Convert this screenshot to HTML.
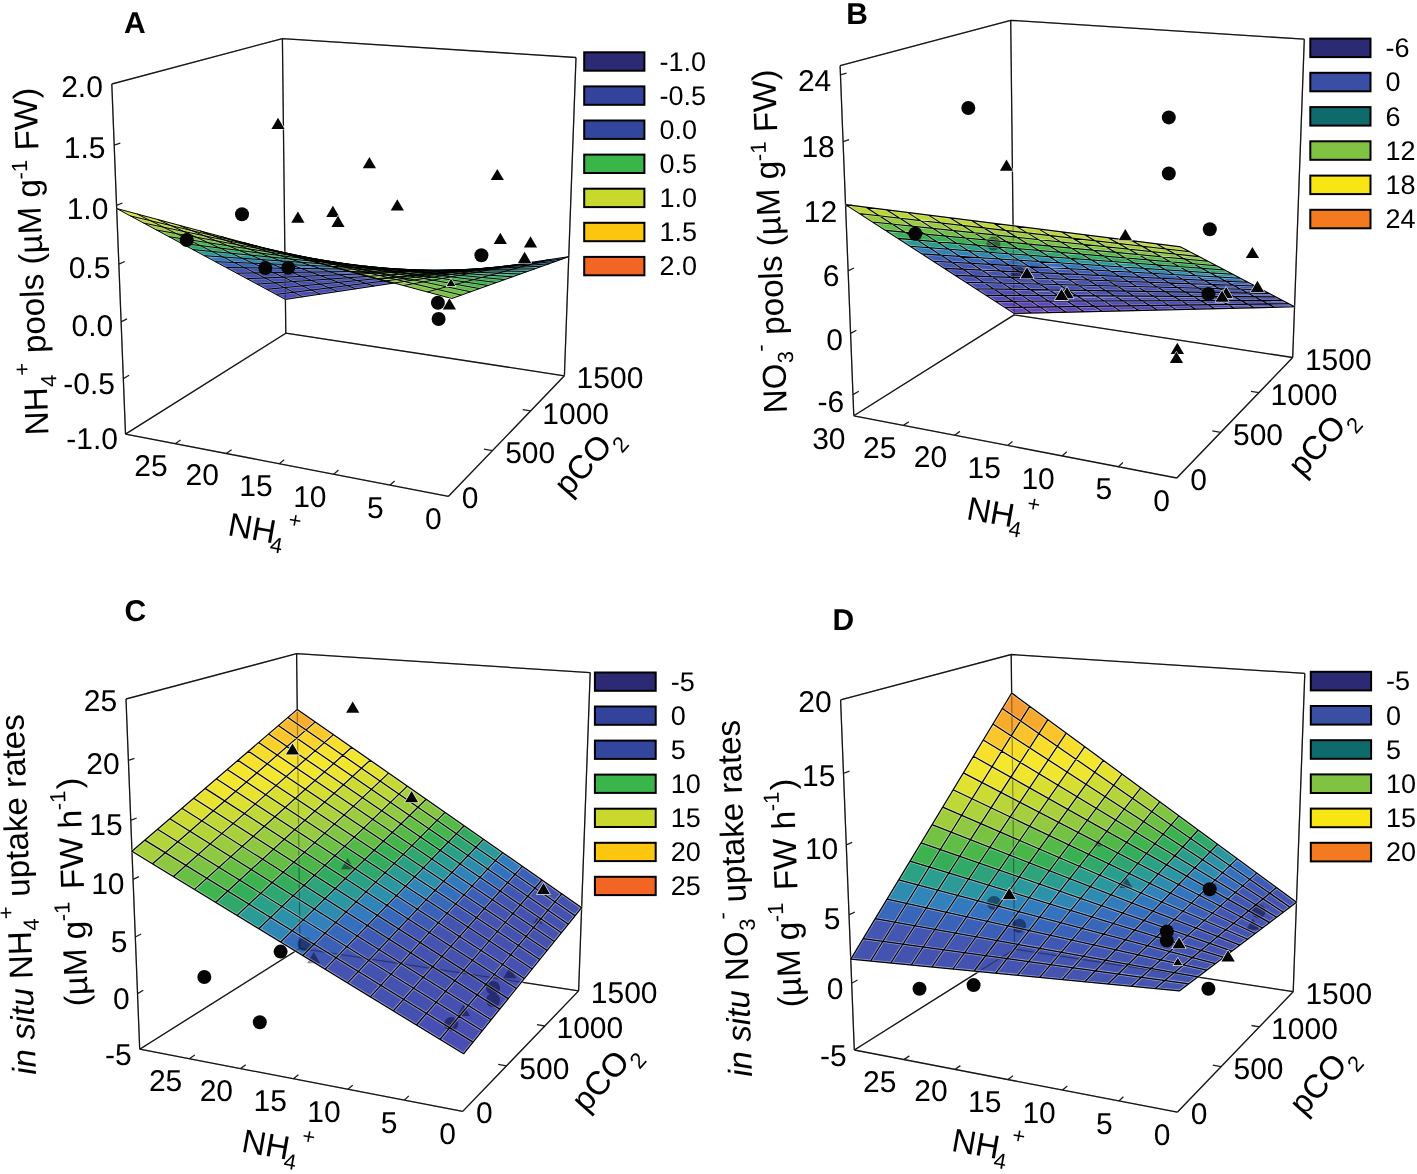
<!DOCTYPE html><html><head><meta charset="utf-8"><style>html,body{margin:0;padding:0;background:#fff;}svg{display:block;}text{font-family:"Liberation Sans",sans-serif;fill:#000;text-rendering:geometricPrecision;}</style></head><body>
<svg width="1417" height="1174" viewBox="0 0 1417 1174">
<rect width="1417" height="1174" fill="#fff"/>
<path d="M111.8 84L282.4 38.6M282.4 38.6L576 57.5M111.8 84L125.5 434.1M282.4 38.6L285.8 333.2M576 57.5L564.4 375.8M125.5 434.1L285.8 333.2M285.8 333.2L564.4 375.8M125.5 434.1L448.5 496.3M448.5 496.3L564.4 375.8M111.8 84L117.9 82.3M114.2 145.2L120.3 143.2M116.5 205.3L122.5 203M118.9 264.2L124.8 261.5M121.1 321.9L127 318.9M123.4 378.6L129.1 375.3M125.5 434.1L131.3 430.5M390.1 485.1L394.6 480.9M333.7 474.2L338.5 470.1M279.2 463.7L284.2 459.8M226.3 453.5L231.6 449.7M175.1 443.7L180.6 440M492.3 450.7L484 449.2M530.7 410.9L522.7 409.6" fill="none" stroke="#231f20" stroke-width="1.3"/>
<polygon points="293.6,292.2 276.2,294.4 285.4,299.4 302.7,296.8" fill="#4c4cb6" stroke="#4c4cb6" stroke-width="0.6"/>
<polygon points="311.3,290.1 293.6,292.2 302.7,296.8 320.2,294.1" fill="#4a4db5" stroke="#4a4db5" stroke-width="0.6"/>
<polygon points="329.2,287.8 311.3,290.1 320.2,294.1 337.9,291.5" fill="#494eb4" stroke="#494eb4" stroke-width="0.6"/>
<polygon points="284.4,287.6 266.7,289.3 276.2,294.4 293.6,292.2" fill="#494eb4" stroke="#494eb4" stroke-width="0.6"/>
<polygon points="347.3,285.6 329.2,287.8 337.9,291.5 355.8,288.8" fill="#484fb3" stroke="#484fb3" stroke-width="0.6"/>
<polygon points="302.2,285.9 284.4,287.6 293.6,292.2 311.3,290.1" fill="#484fb3" stroke="#484fb3" stroke-width="0.6"/>
<polygon points="365.6,283.3 347.3,285.6 355.8,288.8 374,286" fill="#4750b2" stroke="#4750b2" stroke-width="0.6"/>
<polygon points="320.3,284.1 302.2,285.9 311.3,290.1 329.2,287.8" fill="#4750b2" stroke="#4750b2" stroke-width="0.6"/>
<polygon points="274.8,282.8 257,284.1 266.7,289.3 284.4,287.6" fill="#4750b1" stroke="#4750b1" stroke-width="0.6"/>
<polygon points="384.2,281 365.6,283.3 374,286 392.3,283.3" fill="#4651b1" stroke="#4651b1" stroke-width="0.6"/>
<polygon points="338.6,282.4 320.3,284.1 329.2,287.8 347.3,285.6" fill="#4650b1" stroke="#4650b1" stroke-width="0.6"/>
<polygon points="292.9,281.6 274.8,282.8 284.4,287.6 302.2,285.9" fill="#4650b1" stroke="#4650b1" stroke-width="0.6"/>
<polygon points="403,278.7 384.2,281 392.3,283.3 410.9,280.5" fill="#4551b0" stroke="#4551b0" stroke-width="0.6"/>
<polygon points="357.1,280.6 338.6,282.4 347.3,285.6 365.6,283.3" fill="#4551b0" stroke="#4551b0" stroke-width="0.6"/>
<polygon points="311.1,280.3 292.9,281.6 302.2,285.9 320.3,284.1" fill="#4551b0" stroke="#4551b0" stroke-width="0.6"/>
<polygon points="265.1,278 247.1,278.7 257,284.1 274.8,282.8" fill="#4551b0" stroke="#4551b0" stroke-width="0.6"/>
<polygon points="422,276.4 403,278.7 410.9,280.5 429.8,277.6" fill="#4552b0" stroke="#4552b0" stroke-width="0.6"/>
<polygon points="375.8,278.8 357.1,280.6 365.6,283.3 384.2,281" fill="#4552b0" stroke="#4552b0" stroke-width="0.6"/>
<polygon points="329.6,279 311.1,280.3 320.3,284.1 338.6,282.4" fill="#4552b0" stroke="#4552b0" stroke-width="0.6"/>
<polygon points="283.3,277.2 265.1,278 274.8,282.8 292.9,281.6" fill="#4552b0" stroke="#4552b0" stroke-width="0.6"/>
<polygon points="441.3,274 422,276.4 429.8,277.6 448.9,274.8" fill="#4453b0" stroke="#4453b0" stroke-width="0.6"/>
<polygon points="394.8,276.9 375.8,278.8 384.2,281 403,278.7" fill="#4552b0" stroke="#4552b0" stroke-width="0.6"/>
<polygon points="348.3,277.7 329.6,279 338.6,282.4 357.1,280.6" fill="#4552b0" stroke="#4552b0" stroke-width="0.6"/>
<polygon points="301.7,276.4 283.3,277.2 292.9,281.6 311.1,280.3" fill="#4552b0" stroke="#4552b0" stroke-width="0.6"/>
<polygon points="255,272.9 236.8,273.2 247.1,278.7 265.1,278" fill="#4453b0" stroke="#4453b0" stroke-width="0.6"/>
<polygon points="460.8,271.6 441.3,274 448.9,274.8 468.2,271.9" fill="#4453b0" stroke="#4453b0" stroke-width="0.6"/>
<polygon points="414.1,275.1 394.8,276.9 403,278.7 422,276.4" fill="#4453b0" stroke="#4453b0" stroke-width="0.6"/>
<polygon points="367.3,276.4 348.3,277.7 357.1,280.6 375.8,278.8" fill="#4453b0" stroke="#4453b0" stroke-width="0.6"/>
<polygon points="320.4,275.6 301.7,276.4 311.1,280.3 329.6,279" fill="#4453b0" stroke="#4453b0" stroke-width="0.6"/>
<polygon points="273.4,272.7 255,272.9 265.1,278 283.3,277.2" fill="#4453b0" stroke="#4453b0" stroke-width="0.6"/>
<polygon points="480.6,269.1 460.8,271.6 468.2,271.9 487.8,268.9" fill="#4454b0" stroke="#4454b0" stroke-width="0.6"/>
<polygon points="433.5,273.2 414.1,275.1 422,276.4 441.3,274" fill="#4453b0" stroke="#4453b0" stroke-width="0.6"/>
<polygon points="386.5,275.1 367.3,276.4 375.8,278.8 394.8,276.9" fill="#4453b0" stroke="#4453b0" stroke-width="0.6"/>
<polygon points="339.3,274.8 320.4,275.6 329.6,279 348.3,277.7" fill="#4453b0" stroke="#4453b0" stroke-width="0.6"/>
<polygon points="292.1,272.4 273.4,272.7 283.3,277.2 301.7,276.4" fill="#4453b0" stroke="#4453b0" stroke-width="0.6"/>
<polygon points="244.7,267.8 226.3,267.5 236.8,273.2 255,272.9" fill="#4454b0" stroke="#4454b0" stroke-width="0.6"/>
<polygon points="453.3,271.3 433.5,273.2 441.3,274 460.8,271.6" fill="#4454b0" stroke="#4454b0" stroke-width="0.6"/>
<polygon points="500.7,266.6 480.6,269.1 487.8,268.9 507.7,265.9" fill="#4256b2" stroke="#4256b2" stroke-width="0.6"/>
<polygon points="405.9,273.7 386.5,275.1 394.8,276.9 414.1,275.1" fill="#4454b0" stroke="#4454b0" stroke-width="0.6"/>
<polygon points="358.5,274 339.3,274.8 348.3,277.7 367.3,276.4" fill="#4454b0" stroke="#4454b0" stroke-width="0.6"/>
<polygon points="311,272.1 292.1,272.4 301.7,276.4 320.4,275.6" fill="#4454b0" stroke="#4454b0" stroke-width="0.6"/>
<polygon points="263.3,268 244.7,267.8 255,272.9 273.4,272.7" fill="#4256b2" stroke="#4256b2" stroke-width="0.6"/>
<polygon points="473.2,269.3 453.3,271.3 460.8,271.6 480.6,269.1" fill="#4256b2" stroke="#4256b2" stroke-width="0.6"/>
<polygon points="521,264.1 500.7,266.6 507.7,265.9 527.8,262.9" fill="#3e5bb5" stroke="#3e5bb5" stroke-width="0.6"/>
<polygon points="425.6,272.4 405.9,273.7 414.1,275.1 433.5,273.2" fill="#4355b1" stroke="#4355b1" stroke-width="0.6"/>
<polygon points="377.8,273.2 358.5,274 367.3,276.4 386.5,275.1" fill="#4454b0" stroke="#4454b0" stroke-width="0.6"/>
<polygon points="330.1,271.8 311,272.1 320.4,275.6 339.3,274.8" fill="#4355b1" stroke="#4355b1" stroke-width="0.6"/>
<polygon points="282.2,268.3 263.3,268 273.4,272.7 292.1,272.4" fill="#4157b3" stroke="#4157b3" stroke-width="0.6"/>
<polygon points="234.1,262.5 215.5,261.7 226.3,267.5 244.7,267.8" fill="#3c5fb7" stroke="#3c5fb7" stroke-width="0.6"/>
<polygon points="493.5,267.4 473.2,269.3 480.6,269.1 500.7,266.6" fill="#3f5ab5" stroke="#3f5ab5" stroke-width="0.6"/>
<polygon points="445.5,271 425.6,272.4 433.5,273.2 453.3,271.3" fill="#4157b3" stroke="#4157b3" stroke-width="0.6"/>
<polygon points="541.5,261.6 521,264.1 527.8,262.9 548.1,259.8" fill="#3966ba" stroke="#3966ba" stroke-width="0.6"/>
<polygon points="397.5,272.4 377.8,273.2 386.5,275.1 405.9,273.7" fill="#4256b2" stroke="#4256b2" stroke-width="0.6"/>
<polygon points="349.4,271.5 330.1,271.8 339.3,274.8 358.5,274" fill="#4157b3" stroke="#4157b3" stroke-width="0.6"/>
<polygon points="301.2,268.5 282.2,268.3 292.1,272.4 311,272.1" fill="#4058b4" stroke="#4058b4" stroke-width="0.6"/>
<polygon points="252.9,263.2 234.1,262.5 244.7,267.8 263.3,268" fill="#3964b9" stroke="#3964b9" stroke-width="0.6"/>
<polygon points="514,265.4 493.5,267.4 500.7,266.6 521,264.1" fill="#3964b9" stroke="#3964b9" stroke-width="0.6"/>
<polygon points="465.7,269.6 445.5,271 453.3,271.3 473.2,269.3" fill="#3e5cb5" stroke="#3e5cb5" stroke-width="0.6"/>
<polygon points="562.4,259 541.5,261.6 548.1,259.8 568.8,256.7" fill="#3472bf" stroke="#3472bf" stroke-width="0.6"/>
<polygon points="417.4,271.5 397.5,272.4 405.9,273.7 425.6,272.4" fill="#4058b4" stroke="#4058b4" stroke-width="0.6"/>
<polygon points="369,271.2 349.4,271.5 358.5,274 377.8,273.2" fill="#4059b4" stroke="#4059b4" stroke-width="0.6"/>
<polygon points="320.6,268.7 301.2,268.5 311,272.1 330.1,271.8" fill="#3c5eb6" stroke="#3c5eb6" stroke-width="0.6"/>
<polygon points="272,264 252.9,263.2 263.3,268 282.2,268.3" fill="#3868bb" stroke="#3868bb" stroke-width="0.6"/>
<polygon points="223.2,257 204.4,255.7 215.5,261.7 234.1,262.5" fill="#337abe" stroke="#337abe" stroke-width="0.6"/>
<polygon points="486.1,268.1 465.7,269.6 473.2,269.3 493.5,267.4" fill="#3965b9" stroke="#3965b9" stroke-width="0.6"/>
<polygon points="534.8,263.4 514,265.4 521,264.1 541.5,261.6" fill="#366fbe" stroke="#366fbe" stroke-width="0.6"/>
<polygon points="437.5,270.7 417.4,271.5 425.6,272.4 445.5,271" fill="#3b60b7" stroke="#3b60b7" stroke-width="0.6"/>
<polygon points="388.8,270.9 369,271.2 377.8,273.2 397.5,272.4" fill="#3c5fb7" stroke="#3c5fb7" stroke-width="0.6"/>
<polygon points="340.1,269 320.6,268.7 330.1,271.8 349.4,271.5" fill="#3963b9" stroke="#3963b9" stroke-width="0.6"/>
<polygon points="291.3,264.8 272,264 282.2,268.3 301.2,268.5" fill="#366dbd" stroke="#366dbd" stroke-width="0.6"/>
<polygon points="242.2,258.3 223.2,257 234.1,262.5 252.9,263.2" fill="#327fbc" stroke="#327fbc" stroke-width="0.6"/>
<polygon points="506.8,266.7 486.1,268.1 493.5,267.4 514,265.4" fill="#366ebe" stroke="#366ebe" stroke-width="0.6"/>
<polygon points="555.8,261.4 534.8,263.4 541.5,261.6 562.4,259" fill="#327cbd" stroke="#327cbd" stroke-width="0.6"/>
<polygon points="457.9,269.8 437.5,270.7 445.5,271 465.7,269.6" fill="#3867bb" stroke="#3867bb" stroke-width="0.6"/>
<polygon points="408.9,270.6 388.8,270.9 397.5,272.4 417.4,271.5" fill="#3966ba" stroke="#3966ba" stroke-width="0.6"/>
<polygon points="359.9,269.2 340.1,269 349.4,271.5 369,271.2" fill="#3869bb" stroke="#3869bb" stroke-width="0.6"/>
<polygon points="310.8,265.6 291.3,264.8 301.2,268.5 320.6,268.7" fill="#3571bf" stroke="#3571bf" stroke-width="0.6"/>
<polygon points="261.5,259.6 242.2,258.3 252.9,263.2 272,264" fill="#3184ba" stroke="#3184ba" stroke-width="0.6"/>
<polygon points="527.8,265.2 506.8,266.7 514,265.4 534.8,263.4" fill="#3379be" stroke="#3379be" stroke-width="0.6"/>
<polygon points="478.5,268.9 457.9,269.8 465.7,269.6 486.1,268.1" fill="#356fbe" stroke="#356fbe" stroke-width="0.6"/>
<polygon points="212,251.4 192.9,249.6 204.4,255.7 223.2,257" fill="#2b989d" stroke="#2b989d" stroke-width="0.6"/>
<polygon points="429.3,270.3 408.9,270.6 417.4,271.5 437.5,270.7" fill="#366dbd" stroke="#366dbd" stroke-width="0.6"/>
<polygon points="380,269.5 359.9,269.2 369,271.2 388.8,270.9" fill="#366fbe" stroke="#366fbe" stroke-width="0.6"/>
<polygon points="330.6,266.4 310.8,265.6 320.6,268.7 340.1,269" fill="#3377bf" stroke="#3377bf" stroke-width="0.6"/>
<polygon points="281,261 261.5,259.6 272,264 291.3,264.8" fill="#2f88b5" stroke="#2f88b5" stroke-width="0.6"/>
<polygon points="549.1,263.8 527.8,265.2 534.8,263.4 555.8,261.4" fill="#3087b6" stroke="#3087b6" stroke-width="0.6"/>
<polygon points="231.2,253.3 212,251.4 223.2,257 242.2,258.3" fill="#2b9a9a" stroke="#2b9a9a" stroke-width="0.6"/>
<polygon points="499.5,268 478.5,268.9 486.1,268.1 506.8,266.7" fill="#337abe" stroke="#337abe" stroke-width="0.6"/>
<polygon points="449.9,270 429.3,270.3 437.5,270.7 457.9,269.8" fill="#3473c0" stroke="#3473c0" stroke-width="0.6"/>
<polygon points="400.3,269.8 380,269.5 388.8,270.9 408.9,270.6" fill="#3475bf" stroke="#3475bf" stroke-width="0.6"/>
<polygon points="350.6,267.2 330.6,266.4 340.1,269 359.9,269.2" fill="#327dbd" stroke="#327dbd" stroke-width="0.6"/>
<polygon points="300.8,262.3 281,261 291.3,264.8 310.8,265.6" fill="#2e8cb0" stroke="#2e8cb0" stroke-width="0.6"/>
<polygon points="250.7,255.1 231.2,253.3 242.2,258.3 261.5,259.6" fill="#2b9b97" stroke="#2b9b97" stroke-width="0.6"/>
<polygon points="520.7,267.1 499.5,268 506.8,266.7 527.8,265.2" fill="#3086b8" stroke="#3086b8" stroke-width="0.6"/>
<polygon points="470.8,269.7 449.9,270 457.9,269.8 478.5,268.9" fill="#327ebd" stroke="#327ebd" stroke-width="0.6"/>
<polygon points="420.9,270 400.3,269.8 408.9,270.6 429.3,270.3" fill="#327dbd" stroke="#327dbd" stroke-width="0.6"/>
<polygon points="200.4,245.6 181.1,243.2 192.9,249.6 212,251.4" fill="#30a969" stroke="#30a969" stroke-width="0.6"/>
<polygon points="370.9,268 350.6,267.2 359.9,269.2 380,269.5" fill="#3184ba" stroke="#3184ba" stroke-width="0.6"/>
<polygon points="320.7,263.7 300.8,262.3 310.8,265.6 330.6,266.4" fill="#2d91aa" stroke="#2d91aa" stroke-width="0.6"/>
<polygon points="270.4,257 250.7,255.1 261.5,259.6 281,261" fill="#2a9c93" stroke="#2a9c93" stroke-width="0.6"/>
<polygon points="542.2,266.2 520.7,267.1 527.8,265.2 549.1,263.8" fill="#2d91aa" stroke="#2d91aa" stroke-width="0.6"/>
<polygon points="491.9,269.4 470.8,269.7 478.5,268.9 499.5,268" fill="#2f88b5" stroke="#2f88b5" stroke-width="0.6"/>
<polygon points="441.7,270.3 420.9,270 429.3,270.3 449.9,270" fill="#3086b8" stroke="#3086b8" stroke-width="0.6"/>
<polygon points="219.9,248.1 200.4,245.6 212,251.4 231.2,253.3" fill="#31aa67" stroke="#31aa67" stroke-width="0.6"/>
<polygon points="391.4,268.8 370.9,268 380,269.5 400.3,269.8" fill="#2f8ab2" stroke="#2f8ab2" stroke-width="0.6"/>
<polygon points="341,265.1 320.7,263.7 330.6,266.4 350.6,267.2" fill="#2b95a5" stroke="#2b95a5" stroke-width="0.6"/>
<polygon points="290.4,259 270.4,257 281,261 300.8,262.3" fill="#2a9d90" stroke="#2a9d90" stroke-width="0.6"/>
<polygon points="513.3,269.1 491.9,269.4 499.5,268 520.7,267.1" fill="#2c91aa" stroke="#2c91aa" stroke-width="0.6"/>
<polygon points="462.8,270.5 441.7,270.3 449.9,270 470.8,269.7" fill="#2e8eae" stroke="#2e8eae" stroke-width="0.6"/>
<polygon points="239.6,250.5 219.9,248.1 231.2,253.3 250.7,255.1" fill="#31aa65" stroke="#31aa65" stroke-width="0.6"/>
<polygon points="412.2,269.7 391.4,268.8 400.3,269.8 420.9,270" fill="#2d90ab" stroke="#2d90ab" stroke-width="0.6"/>
<polygon points="361.5,266.5 341,265.1 350.6,267.2 370.9,268" fill="#2b98a0" stroke="#2b98a0" stroke-width="0.6"/>
<polygon points="188.5,239.7 169,236.7 181.1,243.2 200.4,245.6" fill="#4cb749" stroke="#4cb749" stroke-width="0.6"/>
<polygon points="310.6,260.9 290.4,259 300.8,262.3 320.7,263.7" fill="#2a9e8d" stroke="#2a9e8d" stroke-width="0.6"/>
<polygon points="535,268.8 513.3,269.1 520.7,267.1 542.2,266.2" fill="#2b989e" stroke="#2b989e" stroke-width="0.6"/>
<polygon points="259.6,253 239.6,250.5 250.7,255.1 270.4,257" fill="#32ab63" stroke="#32ab63" stroke-width="0.6"/>
<polygon points="484.2,270.8 462.8,270.5 470.8,269.7 491.9,269.4" fill="#2b95a5" stroke="#2b95a5" stroke-width="0.6"/>
<polygon points="433.2,270.5 412.2,269.7 420.9,270 441.7,270.3" fill="#2b96a4" stroke="#2b96a4" stroke-width="0.6"/>
<polygon points="382.2,267.9 361.5,266.5 370.9,268 391.4,268.8" fill="#2b999a" stroke="#2b999a" stroke-width="0.6"/>
<polygon points="208.2,242.7 188.5,239.7 200.4,245.6 219.9,248.1" fill="#4bb74a" stroke="#4bb74a" stroke-width="0.6"/>
<polygon points="331.1,262.9 310.6,260.9 320.7,263.7 341,265.1" fill="#2a9f89" stroke="#2a9f89" stroke-width="0.6"/>
<polygon points="279.8,255.5 259.6,253 270.4,257 290.4,259" fill="#32ab61" stroke="#32ab61" stroke-width="0.6"/>
<polygon points="505.8,271.1 484.2,270.8 491.9,269.4 513.3,269.1" fill="#2b999c" stroke="#2b999c" stroke-width="0.6"/>
<polygon points="454.6,271.4 433.2,270.5 441.7,270.3 462.8,270.5" fill="#2b999c" stroke="#2b999c" stroke-width="0.6"/>
<polygon points="228.2,245.8 208.2,242.7 219.9,248.1 239.6,250.5" fill="#4ab74a" stroke="#4ab74a" stroke-width="0.6"/>
<polygon points="403.3,269.3 382.2,267.9 391.4,268.8 412.2,269.7" fill="#2a9b95" stroke="#2a9b95" stroke-width="0.6"/>
<polygon points="351.8,264.9 331.1,262.9 341,265.1 361.5,266.5" fill="#2ba185" stroke="#2ba185" stroke-width="0.6"/>
<polygon points="176.2,233.6 156.5,230 169,236.7 188.5,239.7" fill="#7bc443" stroke="#7bc443" stroke-width="0.6"/>
<polygon points="300.2,258.1 279.8,255.5 290.4,259 310.6,260.9" fill="#33ac60" stroke="#33ac60" stroke-width="0.6"/>
<polygon points="527.8,271.4 505.8,271.1 513.3,269.1 535,268.8" fill="#2a9c92" stroke="#2a9c92" stroke-width="0.6"/>
<polygon points="476.2,272.3 454.6,271.4 462.8,270.5 484.2,270.8" fill="#2a9b95" stroke="#2a9b95" stroke-width="0.6"/>
<polygon points="248.4,248.9 228.2,245.8 239.6,250.5 259.6,253" fill="#49b64a" stroke="#49b64a" stroke-width="0.6"/>
<polygon points="424.6,270.8 403.3,269.3 412.2,269.7 433.2,270.5" fill="#2a9d90" stroke="#2a9d90" stroke-width="0.6"/>
<polygon points="372.8,266.9 351.8,264.9 361.5,266.5 382.2,267.9" fill="#2ca37f" stroke="#2ca37f" stroke-width="0.6"/>
<polygon points="196.2,237.2 176.2,233.6 188.5,239.7 208.2,242.7" fill="#78c343" stroke="#78c343" stroke-width="0.6"/>
<polygon points="321,260.7 300.2,258.1 310.6,260.9 331.1,262.9" fill="#33ac5f" stroke="#33ac5f" stroke-width="0.6"/>
<polygon points="498.1,273.1 476.2,272.3 484.2,270.8 505.8,271.1" fill="#2a9e8e" stroke="#2a9e8e" stroke-width="0.6"/>
<polygon points="268.8,252 248.4,248.9 259.6,253 279.8,255.5" fill="#48b64b" stroke="#48b64b" stroke-width="0.6"/>
<polygon points="446.1,272.3 424.6,270.8 433.2,270.5 454.6,271.4" fill="#2a9f8b" stroke="#2a9f8b" stroke-width="0.6"/>
<polygon points="394.1,269 372.8,266.9 382.2,267.9 403.3,269.3" fill="#2da47a" stroke="#2da47a" stroke-width="0.6"/>
<polygon points="216.4,240.9 196.2,237.2 208.2,242.7 228.2,245.8" fill="#75c243" stroke="#75c243" stroke-width="0.6"/>
<polygon points="341.9,263.3 321,260.7 331.1,262.9 351.8,264.9" fill="#34ad5e" stroke="#34ad5e" stroke-width="0.6"/>
<polygon points="163.6,227.2 143.6,223 156.5,230 176.2,233.6" fill="#a0ce3e" stroke="#a0ce3e" stroke-width="0.6"/>
<polygon points="289.5,255.1 268.8,252 279.8,255.5 300.2,258.1" fill="#47b64b" stroke="#47b64b" stroke-width="0.6"/>
<polygon points="520.3,274 498.1,273.1 505.8,271.1 527.8,271.4" fill="#2aa186" stroke="#2aa186" stroke-width="0.6"/>
<polygon points="468,273.7 446.1,272.3 454.6,271.4 476.2,272.3" fill="#2ba184" stroke="#2ba184" stroke-width="0.6"/>
<polygon points="415.6,271 394.1,269 403.3,269.3 424.6,270.8" fill="#2ea674" stroke="#2ea674" stroke-width="0.6"/>
<polygon points="236.8,244.6 216.4,240.9 228.2,245.8 248.4,248.9" fill="#72c144" stroke="#72c144" stroke-width="0.6"/>
<polygon points="363.2,265.9 341.9,263.3 351.8,264.9 372.8,266.9" fill="#34ad5d" stroke="#34ad5d" stroke-width="0.6"/>
<polygon points="183.8,231.5 163.6,227.2 176.2,233.6 196.2,237.2" fill="#9dcd3f" stroke="#9dcd3f" stroke-width="0.6"/>
<polygon points="310.5,258.4 289.5,255.1 300.2,258.1 321,260.7" fill="#46b64b" stroke="#46b64b" stroke-width="0.6"/>
<polygon points="490.1,275.3 468,273.7 476.2,272.3 498.1,273.1" fill="#2da47b" stroke="#2da47b" stroke-width="0.6"/>
<polygon points="257.5,248.3 236.8,244.6 248.4,248.9 268.8,252" fill="#6ec144" stroke="#6ec144" stroke-width="0.6"/>
<polygon points="437.5,273.1 415.6,271 424.6,270.8 446.1,272.3" fill="#2fa76f" stroke="#2fa76f" stroke-width="0.6"/>
<polygon points="384.7,268.6 363.2,265.9 372.8,266.9 394.1,269" fill="#35ad5c" stroke="#35ad5c" stroke-width="0.6"/>
<polygon points="204.3,235.8 183.8,231.5 196.2,237.2 216.4,240.9" fill="#99cb3f" stroke="#99cb3f" stroke-width="0.6"/>
<polygon points="331.7,261.6 310.5,258.4 321,260.7 341.9,263.3" fill="#45b54c" stroke="#45b54c" stroke-width="0.6"/>
<polygon points="512.5,276.8 490.1,275.3 498.1,273.1 520.3,274" fill="#2fa672" stroke="#2fa672" stroke-width="0.6"/>
<polygon points="278.5,252.1 257.5,248.3 268.8,252 289.5,255.1" fill="#6bc044" stroke="#6bc044" stroke-width="0.6"/>
<polygon points="150.6,220.7 130.4,215.9 143.6,223 163.6,227.2" fill="#bdd739" stroke="#bdd739" stroke-width="0.6"/>
<polygon points="459.5,275.3 437.5,273.1 446.1,272.3 468,273.7" fill="#31a969" stroke="#31a969" stroke-width="0.6"/>
<polygon points="406.5,271.3 384.7,268.6 394.1,269 415.6,271" fill="#35ae5b" stroke="#35ae5b" stroke-width="0.6"/>
<polygon points="225,240.2 204.3,235.8 216.4,240.9 236.8,244.6" fill="#96ca40" stroke="#96ca40" stroke-width="0.6"/>
<polygon points="353.2,264.9 331.7,261.6 341.9,263.3 363.2,265.9" fill="#45b54c" stroke="#45b54c" stroke-width="0.6"/>
<polygon points="171,225.6 150.6,220.7 163.6,227.2 183.8,231.5" fill="#b8d63a" stroke="#b8d63a" stroke-width="0.6"/>
<polygon points="299.7,256 278.5,252.1 289.5,255.1 310.5,258.4" fill="#68bf44" stroke="#68bf44" stroke-width="0.6"/>
<polygon points="481.9,277.4 459.5,275.3 468,273.7 490.1,275.3" fill="#32ab63" stroke="#32ab63" stroke-width="0.6"/>
<polygon points="428.5,274.1 406.5,271.3 415.6,271 437.5,273.1" fill="#36ae5a" stroke="#36ae5a" stroke-width="0.6"/>
<polygon points="245.9,244.6 225,240.2 236.8,244.6 257.5,248.3" fill="#92c941" stroke="#92c941" stroke-width="0.6"/>
<polygon points="375,268.2 353.2,264.9 363.2,265.9 384.7,268.6" fill="#44b54c" stroke="#44b54c" stroke-width="0.6"/>
<polygon points="191.7,230.6 171,225.6 183.8,231.5 204.3,235.8" fill="#b4d43b" stroke="#b4d43b" stroke-width="0.6"/>
<polygon points="321.2,259.9 299.7,256 310.5,258.4 331.7,261.6" fill="#65be45" stroke="#65be45" stroke-width="0.6"/>
<polygon points="504.6,279.6 481.9,277.4 490.1,275.3 512.5,276.8" fill="#33ac60" stroke="#33ac60" stroke-width="0.6"/>
<polygon points="450.9,276.9 428.5,274.1 437.5,273.1 459.5,275.3" fill="#36af59" stroke="#36af59" stroke-width="0.6"/>
<polygon points="267.1,249 245.9,244.6 257.5,248.3 278.5,252.1" fill="#8fc842" stroke="#8fc842" stroke-width="0.6"/>
<polygon points="137.1,214 116.7,208.5 130.4,215.9 150.6,220.7" fill="#dbe031" stroke="#dbe031" stroke-width="0.6"/>
<polygon points="397,271.6 375,268.2 384.7,268.6 406.5,271.3" fill="#43b54d" stroke="#43b54d" stroke-width="0.6"/>
<polygon points="212.7,235.6 191.7,230.6 204.3,235.8 225,240.2" fill="#afd33b" stroke="#afd33b" stroke-width="0.6"/>
<polygon points="342.9,263.8 321.2,259.9 331.7,261.6 353.2,264.9" fill="#62bd45" stroke="#62bd45" stroke-width="0.6"/>
<polygon points="288.6,253.5 267.1,249 278.5,252.1 299.7,256" fill="#8ac742" stroke="#8ac742" stroke-width="0.6"/>
<polygon points="473.5,279.7 450.9,276.9 459.5,275.3 481.9,277.4" fill="#37af58" stroke="#37af58" stroke-width="0.6"/>
<polygon points="157.9,219.6 137.1,214 150.6,220.7 171,225.6" fill="#d3de32" stroke="#d3de32" stroke-width="0.6"/>
<polygon points="419.3,275 397,271.6 406.5,271.3 428.5,274.1" fill="#42b44d" stroke="#42b44d" stroke-width="0.6"/>
<polygon points="233.9,240.7 212.7,235.6 225,240.2 245.9,244.6" fill="#aad13c" stroke="#aad13c" stroke-width="0.6"/>
<polygon points="365,267.8 342.9,263.8 353.2,264.9 375,268.2" fill="#5fbd45" stroke="#5fbd45" stroke-width="0.6"/>
<polygon points="310.3,258.1 288.6,253.5 299.7,256 321.2,259.9" fill="#84c643" stroke="#84c643" stroke-width="0.6"/>
<polygon points="178.8,225.2 157.9,219.6 171,225.6 191.7,230.6" fill="#ccdb34" stroke="#ccdb34" stroke-width="0.6"/>
<polygon points="496.4,282.5 473.5,279.7 481.9,277.4 504.6,279.6" fill="#37af57" stroke="#37af57" stroke-width="0.6"/>
<polygon points="441.9,278.5 419.3,275 428.5,274.1 450.9,276.9" fill="#41b44d" stroke="#41b44d" stroke-width="0.6"/>
<polygon points="255.4,245.8 233.9,240.7 245.9,244.6 267.1,249" fill="#a5cf3d" stroke="#a5cf3d" stroke-width="0.6"/>
<polygon points="387.3,271.9 365,267.8 375,268.2 397,271.6" fill="#5cbc46" stroke="#5cbc46" stroke-width="0.6"/>
<polygon points="200.1,230.9 178.8,225.2 191.7,230.6 212.7,235.6" fill="#c6da36" stroke="#c6da36" stroke-width="0.6"/>
<polygon points="332.4,262.7 310.3,258.1 321.2,259.9 342.9,263.8" fill="#7ec443" stroke="#7ec443" stroke-width="0.6"/>
<polygon points="464.8,282 441.9,278.5 450.9,276.9 473.5,279.7" fill="#40b44e" stroke="#40b44e" stroke-width="0.6"/>
<polygon points="277.1,251 255.4,245.8 267.1,249 288.6,253.5" fill="#a0ce3e" stroke="#a0ce3e" stroke-width="0.6"/>
<polygon points="409.8,276 387.3,271.9 397,271.6 419.3,275" fill="#59bb46" stroke="#59bb46" stroke-width="0.6"/>
<polygon points="221.6,236.7 200.1,230.9 212.7,235.6 233.9,240.7" fill="#c0d837" stroke="#c0d837" stroke-width="0.6"/>
<polygon points="354.6,267.4 332.4,262.7 342.9,263.8 365,267.8" fill="#79c343" stroke="#79c343" stroke-width="0.6"/>
<polygon points="488,285.5 464.8,282 473.5,279.7 496.4,282.5" fill="#3fb44e" stroke="#3fb44e" stroke-width="0.6"/>
<polygon points="299.2,256.3 277.1,251 288.6,253.5 310.3,258.1" fill="#9bcc3f" stroke="#9bcc3f" stroke-width="0.6"/>
<polygon points="432.7,280.1 409.8,276 419.3,275 441.9,278.5" fill="#56ba46" stroke="#56ba46" stroke-width="0.6"/>
<polygon points="243.3,242.5 221.6,236.7 233.9,240.7 255.4,245.8" fill="#bad739" stroke="#bad739" stroke-width="0.6"/>
<polygon points="377.2,272.2 354.6,267.4 365,267.8 387.3,271.9" fill="#73c244" stroke="#73c244" stroke-width="0.6"/>
<polygon points="321.4,261.6 299.2,256.3 310.3,258.1 332.4,262.7" fill="#96cb40" stroke="#96cb40" stroke-width="0.6"/>
<polygon points="455.9,284.4 432.7,280.1 441.9,278.5 464.8,282" fill="#53b947" stroke="#53b947" stroke-width="0.6"/>
<polygon points="265.3,248.4 243.3,242.5 255.4,245.8 277.1,251" fill="#b5d53a" stroke="#b5d53a" stroke-width="0.6"/>
<polygon points="400.1,277 377.2,272.2 387.3,271.9 409.8,276" fill="#6ec044" stroke="#6ec044" stroke-width="0.6"/>
<polygon points="344,267 321.4,261.6 332.4,262.7 354.6,267.4" fill="#91c941" stroke="#91c941" stroke-width="0.6"/>
<polygon points="479.4,288.6 455.9,284.4 464.8,282 488,285.5" fill="#50b848" stroke="#50b848" stroke-width="0.6"/>
<polygon points="287.6,254.4 265.3,248.4 277.1,251 299.2,256.3" fill="#afd23b" stroke="#afd23b" stroke-width="0.6"/>
<polygon points="423.2,281.9 400.1,277 409.8,276 432.7,280.1" fill="#69bf44" stroke="#69bf44" stroke-width="0.6"/>
<polygon points="366.9,272.5 344,267 354.6,267.4 377.2,272.2" fill="#8bc742" stroke="#8bc742" stroke-width="0.6"/>
<polygon points="310.2,260.5 287.6,254.4 299.2,256.3 321.4,261.6" fill="#a8d03c" stroke="#a8d03c" stroke-width="0.6"/>
<polygon points="446.7,286.8 423.2,281.9 432.7,280.1 455.9,284.4" fill="#63be45" stroke="#63be45" stroke-width="0.6"/>
<polygon points="390,278 366.9,272.5 377.2,272.2 400.1,277" fill="#83c543" stroke="#83c543" stroke-width="0.6"/>
<polygon points="333.1,266.6 310.2,260.5 321.4,261.6 344,267" fill="#a2ce3d" stroke="#a2ce3d" stroke-width="0.6"/>
<polygon points="470.5,291.8 446.7,286.8 455.9,284.4 479.4,288.6" fill="#5ebc46" stroke="#5ebc46" stroke-width="0.6"/>
<polygon points="413.5,283.6 390,278 400.1,277 423.2,281.9" fill="#7bc443" stroke="#7bc443" stroke-width="0.6"/>
<polygon points="356.2,272.8 333.1,266.6 344,267 366.9,272.5" fill="#9bcc3f" stroke="#9bcc3f" stroke-width="0.6"/>
<polygon points="437.2,289.3 413.5,283.6 423.2,281.9 446.7,286.8" fill="#74c244" stroke="#74c244" stroke-width="0.6"/>
<polygon points="379.6,279.1 356.2,272.8 366.9,272.5 390,278" fill="#95ca40" stroke="#95ca40" stroke-width="0.6"/>
<polygon points="461.3,295.1 437.2,289.3 446.7,286.8 470.5,291.8" fill="#6cc044" stroke="#6cc044" stroke-width="0.6"/>
<polygon points="403.4,285.5 379.6,279.1 390,278 413.5,283.6" fill="#8ec842" stroke="#8ec842" stroke-width="0.6"/>
<polygon points="427.4,291.9 403.4,285.5 413.5,283.6 437.2,289.3" fill="#84c643" stroke="#84c643" stroke-width="0.6"/>
<polygon points="451.8,298.5 427.4,291.9 437.2,289.3 461.3,295.1" fill="#7ac343" stroke="#7ac343" stroke-width="0.6"/>
<path d="M111.8 84L282.4 38.6M282.4 38.6L576 57.5M111.8 84L125.5 434.1M282.4 38.6L285.8 333.2M576 57.5L564.4 375.8M125.5 434.1L285.8 333.2M285.8 333.2L564.4 375.8M125.5 434.1L448.5 496.3M448.5 496.3L564.4 375.8" fill="none" stroke="#a0a0a0" stroke-width="1.2" style="mix-blend-mode:multiply"/>
<g fill="#8a8aa2" style="mix-blend-mode:multiply"></g>
<path d="M451.8 298.5L568.8 256.7M451.8 298.5L116.7 208.5M427.4 291.9L548.1 259.8M461.3 295.1L130.4 215.9M403.4 285.5L527.8 262.9M470.5 291.8L143.6 223M379.6 279.1L507.7 265.9M479.4 288.6L156.5 230M356.2 272.8L487.8 268.9M488 285.5L169 236.7M333.1 266.6L468.2 271.9M496.4 282.5L181.1 243.2M310.2 260.5L448.9 274.8M504.6 279.6L192.9 249.6M287.6 254.4L429.8 277.6M512.5 276.8L204.4 255.7M265.3 248.4L410.9 280.5M520.3 274L215.5 261.7M243.3 242.5L392.3 283.3M527.8 271.4L226.3 267.5M221.6 236.7L374 286M535 268.8L236.8 273.2M200.1 230.9L355.8 288.8M542.2 266.2L247.1 278.7M178.8 225.2L337.9 291.5M549.1 263.8L257 284.1M157.9 219.6L320.2 294.1M555.8 261.4L266.7 289.3M137.1 214L302.7 296.8M562.4 259L276.2 294.4M116.7 208.5L285.4 299.4M568.8 256.7L285.4 299.4" fill="none" stroke="#fff" stroke-width="2.2" opacity="0.3"/>
<path d="M451.8 298.5L568.8 256.7M451.8 298.5L116.7 208.5M427.4 291.9L548.1 259.8M461.3 295.1L130.4 215.9M403.4 285.5L527.8 262.9M470.5 291.8L143.6 223M379.6 279.1L507.7 265.9M479.4 288.6L156.5 230M356.2 272.8L487.8 268.9M488 285.5L169 236.7M333.1 266.6L468.2 271.9M496.4 282.5L181.1 243.2M310.2 260.5L448.9 274.8M504.6 279.6L192.9 249.6M287.6 254.4L429.8 277.6M512.5 276.8L204.4 255.7M265.3 248.4L410.9 280.5M520.3 274L215.5 261.7M243.3 242.5L392.3 283.3M527.8 271.4L226.3 267.5M221.6 236.7L374 286M535 268.8L236.8 273.2M200.1 230.9L355.8 288.8M542.2 266.2L247.1 278.7M178.8 225.2L337.9 291.5M549.1 263.8L257 284.1M157.9 219.6L320.2 294.1M555.8 261.4L266.7 289.3M137.1 214L302.7 296.8M562.4 259L276.2 294.4M116.7 208.5L285.4 299.4M568.8 256.7L285.4 299.4" fill="none" stroke="#000" stroke-width="1.0"/>
<g fill="#050505"><polygon points="278,117.7 284.6,128.9 271.4,128.9" stroke="#fff" stroke-width="1.2" paint-order="stroke" stroke-linejoin="round"/><polygon points="369.4,157 376,168.2 362.8,168.2" stroke="#fff" stroke-width="1.2" paint-order="stroke" stroke-linejoin="round"/><polygon points="497.3,168.9 503.9,180.1 490.7,180.1" stroke="#fff" stroke-width="1.2" paint-order="stroke" stroke-linejoin="round"/><polygon points="297.9,211.6 304.5,222.8 291.2,222.8" stroke="#fff" stroke-width="1.2" paint-order="stroke" stroke-linejoin="round"/><polygon points="332.9,205.8 339.5,217 326.2,217" stroke="#fff" stroke-width="1.2" paint-order="stroke" stroke-linejoin="round"/><polygon points="338,215.7 344.6,226.9 331.4,226.9" stroke="#fff" stroke-width="1.2" paint-order="stroke" stroke-linejoin="round"/><polygon points="397.3,199.2 403.9,210.4 390.7,210.4" stroke="#fff" stroke-width="1.2" paint-order="stroke" stroke-linejoin="round"/><polygon points="500.3,232.7 506.9,243.9 493.7,243.9" stroke="#fff" stroke-width="1.2" paint-order="stroke" stroke-linejoin="round"/><polygon points="530.5,236.2 537.1,247.4 523.9,247.4" stroke="#fff" stroke-width="1.2" paint-order="stroke" stroke-linejoin="round"/><polygon points="524.6,251.7 531.2,262.9 518,262.9" stroke="#fff" stroke-width="1.2" paint-order="stroke" stroke-linejoin="round"/><polygon points="449.4,298.3 456,309.5 442.8,309.5" stroke="#fff" stroke-width="1.2" paint-order="stroke" stroke-linejoin="round"/><polygon points="451,278.7 455.5,286.3 446.5,286.3" stroke="#fff" stroke-width="1.2" paint-order="stroke" stroke-linejoin="round"/><circle cx="242" cy="214.3" r="7"/><circle cx="186.7" cy="240.1" r="7"/><circle cx="265.3" cy="268" r="7"/><circle cx="288.3" cy="267.8" r="7"/><circle cx="481.4" cy="255.3" r="7"/><circle cx="437.9" cy="302.8" r="7"/><circle cx="438.6" cy="319" r="7"/></g>
<rect x="584.2" y="52.3" width="60.2" height="18.4" fill="#2b2a73" stroke="#000" stroke-width="2"/><text x="659.40" y="70.80" font-size="27">-1.0</text><rect x="584.2" y="86.4" width="60.2" height="18.4" fill="#33439c" stroke="#000" stroke-width="2"/><text x="659.40" y="104.90" font-size="27">-0.5</text><rect x="584.2" y="120.5" width="60.2" height="18.4" fill="#33469e" stroke="#000" stroke-width="2"/><text x="659.40" y="139.00" font-size="27">0.0</text><rect x="584.2" y="154.6" width="60.2" height="18.4" fill="#3ab54a" stroke="#000" stroke-width="2"/><text x="659.40" y="173.10" font-size="27">0.5</text><rect x="584.2" y="188.7" width="60.2" height="18.4" fill="#c9d82d" stroke="#000" stroke-width="2"/><text x="659.40" y="207.20" font-size="27">1.0</text><rect x="584.2" y="222.8" width="60.2" height="18.4" fill="#fdc60e" stroke="#000" stroke-width="2"/><text x="659.40" y="241.30" font-size="27">1.5</text><rect x="584.2" y="256.9" width="60.2" height="18.4" fill="#f26522" stroke="#000" stroke-width="2"/><text x="659.40" y="275.40" font-size="27">2.0</text>
<text x="61.20" y="96.65" font-size="30">2.0</text><text x="63.75" y="158.20" font-size="30">1.5</text><text x="66.65" y="218.65" font-size="30">1.0</text><text x="68.65" y="278.20" font-size="30">0.5</text><text x="71.50" y="335.90" font-size="30">0.0</text><text x="63.35" y="394.25" font-size="30">-0.5</text><text x="66.25" y="449.10" font-size="30">-1.0</text><text x="134.25" y="475.95" font-size="30">25</text><text x="185.50" y="485.20" font-size="30">20</text><text x="239.30" y="495.80" font-size="30">15</text><text x="293.15" y="507.10" font-size="30">10</text><text x="367.10" y="517.65" font-size="30">5</text><text x="425.05" y="529.15" font-size="30">0</text><text x="576.60" y="388.25" font-size="30">1500</text><text x="542.30" y="423.60" font-size="30">1000</text><text x="505.15" y="463.45" font-size="30">500</text><text x="461.85" y="508.00" font-size="30">0</text>
<path d="M840.1 65.7L1010.7 20.3M1010.7 20.3L1304.3 39.2M840.1 65.7L853.8 415.8M1010.7 20.3L1014.1 314.9M1304.3 39.2L1292.7 357.5M853.8 415.8L1014.1 314.9M1014.1 314.9L1292.7 357.5M853.8 415.8L1176.8 478M1176.8 478L1292.7 357.5M840.4 74.9L846.6 73.2M843.1 141.6L849.1 139.6M845.6 206.9L851.6 204.5M848.1 270.9L854 268M850.6 333.4L856.4 330.2M853 394.6L858.8 391.2M1118.4 466.8L1122.9 462.6M1062 455.9L1066.8 451.8M1007.5 445.4L1012.5 441.5M954.6 435.2L959.9 431.4M903.4 425.4L908.9 421.7M1220.6 432.4L1212.3 430.9M1259 392.6L1251 391.3" fill="none" stroke="#231f20" stroke-width="1.3"/>
<polygon points="1022.3,307.2 1004.9,307.5 1014,313.4 1031.3,313" fill="#6745bd" stroke="#6745bd" stroke-width="0.6"/>
<polygon points="1039.8,307 1022.3,307.2 1031.3,313 1048.7,312.6" fill="#6545bd" stroke="#6545bd" stroke-width="0.6"/>
<polygon points="1057.6,306.8 1039.8,307 1048.7,312.6 1066.3,312.2" fill="#6344bc" stroke="#6344bc" stroke-width="0.6"/>
<polygon points="1013,301.3 995.5,301.4 1004.9,307.5 1022.3,307.2" fill="#5f45ba" stroke="#5f45ba" stroke-width="0.6"/>
<polygon points="1075.6,306.5 1057.6,306.8 1066.3,312.2 1084.1,311.8" fill="#6144bb" stroke="#6144bb" stroke-width="0.6"/>
<polygon points="1030.8,301.3 1013,301.3 1022.3,307.2 1039.8,307" fill="#5c46ba" stroke="#5c46ba" stroke-width="0.6"/>
<polygon points="1093.8,306.3 1075.6,306.5 1084.1,311.8 1102.1,311.3" fill="#5f45ba" stroke="#5f45ba" stroke-width="0.6"/>
<polygon points="1048.8,301.2 1030.8,301.3 1039.8,307 1057.6,306.8" fill="#5a47b9" stroke="#5a47b9" stroke-width="0.6"/>
<polygon points="1003.5,295.3 985.8,295.2 995.5,301.4 1013,301.3" fill="#5449b8" stroke="#5449b8" stroke-width="0.6"/>
<polygon points="1112.3,306 1093.8,306.3 1102.1,311.3 1120.3,310.9" fill="#5c46ba" stroke="#5c46ba" stroke-width="0.6"/>
<polygon points="1067,301.1 1048.8,301.2 1057.6,306.8 1075.6,306.5" fill="#5748b8" stroke="#5748b8" stroke-width="0.6"/>
<polygon points="1021.5,295.4 1003.5,295.3 1013,301.3 1030.8,301.3" fill="#514ab7" stroke="#514ab7" stroke-width="0.6"/>
<polygon points="1130.9,305.7 1112.3,306 1120.3,310.9 1138.8,310.5" fill="#5947b9" stroke="#5947b9" stroke-width="0.6"/>
<polygon points="1085.4,301 1067,301.1 1075.6,306.5 1093.8,306.3" fill="#5449b8" stroke="#5449b8" stroke-width="0.6"/>
<polygon points="1039.7,295.5 1021.5,295.4 1030.8,301.3 1048.8,301.2" fill="#4f4bb7" stroke="#4f4bb7" stroke-width="0.6"/>
<polygon points="993.8,289 975.9,288.7 985.8,295.2 1003.5,295.3" fill="#4b4db5" stroke="#4b4db5" stroke-width="0.6"/>
<polygon points="1149.8,305.5 1130.9,305.7 1138.8,310.5 1157.4,310" fill="#5648b8" stroke="#5648b8" stroke-width="0.6"/>
<polygon points="1104,301 1085.4,301 1093.8,306.3 1112.3,306" fill="#524ab7" stroke="#524ab7" stroke-width="0.6"/>
<polygon points="1058,295.6 1039.7,295.5 1048.8,301.2 1067,301.1" fill="#4c4cb6" stroke="#4c4cb6" stroke-width="0.6"/>
<polygon points="1011.9,289.3 993.8,289 1003.5,295.3 1021.5,295.4" fill="#4b4db5" stroke="#4b4db5" stroke-width="0.6"/>
<polygon points="1168.9,305.2 1149.8,305.5 1157.4,310 1176.3,309.6" fill="#5349b8" stroke="#5349b8" stroke-width="0.6"/>
<polygon points="1122.8,300.9 1104,301 1112.3,306 1130.9,305.7" fill="#4f4bb7" stroke="#4f4bb7" stroke-width="0.6"/>
<polygon points="1076.6,295.7 1058,295.6 1067,301.1 1085.4,301" fill="#4b4cb6" stroke="#4b4cb6" stroke-width="0.6"/>
<polygon points="1030.3,289.6 1011.9,289.3 1021.5,295.4 1039.7,295.5" fill="#4a4db4" stroke="#4a4db4" stroke-width="0.6"/>
<polygon points="1188.2,305 1168.9,305.2 1176.3,309.6 1195.4,309.1" fill="#504ab7" stroke="#504ab7" stroke-width="0.6"/>
<polygon points="983.8,282.6 965.7,282.2 975.9,288.7 993.8,289" fill="#484fb3" stroke="#484fb3" stroke-width="0.6"/>
<polygon points="1141.9,300.8 1122.8,300.9 1130.9,305.7 1149.8,305.5" fill="#4c4cb6" stroke="#4c4cb6" stroke-width="0.6"/>
<polygon points="1095.5,295.8 1076.6,295.7 1085.4,301 1104,301" fill="#4b4db5" stroke="#4b4db5" stroke-width="0.6"/>
<polygon points="1048.9,289.9 1030.3,289.6 1039.7,295.5 1058,295.6" fill="#494eb4" stroke="#494eb4" stroke-width="0.6"/>
<polygon points="1207.8,304.7 1188.2,305 1195.4,309.1 1214.8,308.7" fill="#4d4bb6" stroke="#4d4bb6" stroke-width="0.6"/>
<polygon points="1002.1,283.1 983.8,282.6 993.8,289 1011.9,289.3" fill="#484fb2" stroke="#484fb2" stroke-width="0.6"/>
<polygon points="1161.2,300.7 1141.9,300.8 1149.8,305.5 1168.9,305.2" fill="#4b4cb5" stroke="#4b4cb5" stroke-width="0.6"/>
<polygon points="1114.5,295.9 1095.5,295.8 1104,301 1122.8,300.9" fill="#4a4db4" stroke="#4a4db4" stroke-width="0.6"/>
<polygon points="1067.7,290.2 1048.9,289.9 1058,295.6 1076.6,295.7" fill="#494eb3" stroke="#494eb3" stroke-width="0.6"/>
<polygon points="1227.6,304.4 1207.8,304.7 1214.8,308.7 1234.4,308.2" fill="#4c4cb6" stroke="#4c4cb6" stroke-width="0.6"/>
<polygon points="1020.7,283.6 1002.1,283.1 1011.9,289.3 1030.3,289.6" fill="#474fb2" stroke="#474fb2" stroke-width="0.6"/>
<polygon points="1180.7,300.7 1161.2,300.7 1168.9,305.2 1188.2,305" fill="#4b4db5" stroke="#4b4db5" stroke-width="0.6"/>
<polygon points="973.5,276 955.2,275.4 965.7,282.2 983.8,282.6" fill="#4551b0" stroke="#4551b0" stroke-width="0.6"/>
<polygon points="1133.8,296 1114.5,295.9 1122.8,300.9 1141.9,300.8" fill="#4a4eb4" stroke="#4a4eb4" stroke-width="0.6"/>
<polygon points="1086.7,290.5 1067.7,290.2 1076.6,295.7 1095.5,295.8" fill="#484fb3" stroke="#484fb3" stroke-width="0.6"/>
<polygon points="1247.6,304.1 1227.6,304.4 1234.4,308.2 1254.2,307.8" fill="#4b4db5" stroke="#4b4db5" stroke-width="0.6"/>
<polygon points="1039.5,284 1020.7,283.6 1030.3,289.6 1048.9,289.9" fill="#4750b1" stroke="#4750b1" stroke-width="0.6"/>
<polygon points="1200.5,300.6 1180.7,300.7 1188.2,305 1207.8,304.7" fill="#4a4db4" stroke="#4a4db4" stroke-width="0.6"/>
<polygon points="992,276.7 973.5,276 983.8,282.6 1002.1,283.1" fill="#4551b0" stroke="#4551b0" stroke-width="0.6"/>
<polygon points="1153.3,296.1 1133.8,296 1141.9,300.8 1161.2,300.7" fill="#494eb3" stroke="#494eb3" stroke-width="0.6"/>
<polygon points="1106,290.8 1086.7,290.5 1095.5,295.8 1114.5,295.9" fill="#484fb2" stroke="#484fb2" stroke-width="0.6"/>
<polygon points="1267.9,303.9 1247.6,304.1 1254.2,307.8 1274.3,307.3" fill="#4a4db4" stroke="#4a4db4" stroke-width="0.6"/>
<polygon points="1058.5,284.5 1039.5,284 1048.9,289.9 1067.7,290.2" fill="#4650b1" stroke="#4650b1" stroke-width="0.6"/>
<polygon points="1220.6,300.5 1200.5,300.6 1207.8,304.7 1227.6,304.4" fill="#494eb4" stroke="#494eb4" stroke-width="0.6"/>
<polygon points="1010.8,277.4 992,276.7 1002.1,283.1 1020.7,283.6" fill="#4551b0" stroke="#4551b0" stroke-width="0.6"/>
<polygon points="1173.1,296.3 1153.3,296.1 1161.2,300.7 1180.7,300.7" fill="#484fb3" stroke="#484fb3" stroke-width="0.6"/>
<polygon points="962.9,269.3 944.4,268.4 955.2,275.4 973.5,276" fill="#4552b0" stroke="#4552b0" stroke-width="0.6"/>
<polygon points="1125.5,291.1 1106,290.8 1114.5,295.9 1133.8,296" fill="#474fb2" stroke="#474fb2" stroke-width="0.6"/>
<polygon points="1288.4,303.6 1267.9,303.9 1274.3,307.3 1294.6,306.8" fill="#494eb4" stroke="#494eb4" stroke-width="0.6"/>
<polygon points="1077.7,285 1058.5,284.5 1067.7,290.2 1086.7,290.5" fill="#4651b1" stroke="#4651b1" stroke-width="0.6"/>
<polygon points="1240.8,300.4 1220.6,300.5 1227.6,304.4 1247.6,304.1" fill="#494eb3" stroke="#494eb3" stroke-width="0.6"/>
<polygon points="1029.8,278 1010.8,277.4 1020.7,283.6 1039.5,284" fill="#4552b0" stroke="#4552b0" stroke-width="0.6"/>
<polygon points="1193.1,296.4 1173.1,296.3 1180.7,300.7 1200.5,300.6" fill="#484fb2" stroke="#484fb2" stroke-width="0.6"/>
<polygon points="981.6,270.1 962.9,269.3 973.5,276 992,276.7" fill="#4552b0" stroke="#4552b0" stroke-width="0.6"/>
<polygon points="1145.2,291.4 1125.5,291.1 1133.8,296 1153.3,296.1" fill="#4750b1" stroke="#4750b1" stroke-width="0.6"/>
<polygon points="1097.2,285.5 1077.7,285 1086.7,290.5 1106,290.8" fill="#4551b0" stroke="#4551b0" stroke-width="0.6"/>
<polygon points="1261.4,300.3 1240.8,300.4 1247.6,304.1 1267.9,303.9" fill="#484fb3" stroke="#484fb3" stroke-width="0.6"/>
<polygon points="1049,278.7 1029.8,278 1039.5,284 1058.5,284.5" fill="#4552b0" stroke="#4552b0" stroke-width="0.6"/>
<polygon points="1213.4,296.5 1193.1,296.4 1200.5,300.6 1220.6,300.5" fill="#4750b2" stroke="#4750b2" stroke-width="0.6"/>
<polygon points="1000.6,271 981.6,270.1 992,276.7 1010.8,277.4" fill="#4453b0" stroke="#4453b0" stroke-width="0.6"/>
<polygon points="1165.2,291.7 1145.2,291.4 1153.3,296.1 1173.1,296.3" fill="#4650b1" stroke="#4650b1" stroke-width="0.6"/>
<polygon points="1116.9,286 1097.2,285.5 1106,290.8 1125.5,291.1" fill="#4551b0" stroke="#4551b0" stroke-width="0.6"/>
<polygon points="952,262.3 933.3,261.2 944.4,268.4 962.9,269.3" fill="#4454b0" stroke="#4454b0" stroke-width="0.6"/>
<polygon points="1282.1,300.3 1261.4,300.3 1267.9,303.9 1288.4,303.6" fill="#474fb2" stroke="#474fb2" stroke-width="0.6"/>
<polygon points="1068.5,279.4 1049,278.7 1058.5,284.5 1077.7,285" fill="#4552b0" stroke="#4552b0" stroke-width="0.6"/>
<polygon points="1233.9,296.6 1213.4,296.5 1220.6,300.5 1240.8,300.4" fill="#4650b1" stroke="#4650b1" stroke-width="0.6"/>
<polygon points="1019.8,271.8 1000.6,271 1010.8,277.4 1029.8,278" fill="#4453b0" stroke="#4453b0" stroke-width="0.6"/>
<polygon points="1185.5,292 1165.2,291.7 1173.1,296.3 1193.1,296.4" fill="#4551b0" stroke="#4551b0" stroke-width="0.6"/>
<polygon points="1136.9,286.5 1116.9,286 1125.5,291.1 1145.2,291.4" fill="#4551b0" stroke="#4551b0" stroke-width="0.6"/>
<polygon points="971,263.3 952,262.3 962.9,269.3 981.6,270.1" fill="#4454b0" stroke="#4454b0" stroke-width="0.6"/>
<polygon points="1088.2,280.1 1068.5,279.4 1077.7,285 1097.2,285.5" fill="#4552b0" stroke="#4552b0" stroke-width="0.6"/>
<polygon points="1254.6,296.7 1233.9,296.6 1240.8,300.4 1261.4,300.3" fill="#4650b1" stroke="#4650b1" stroke-width="0.6"/>
<polygon points="1039.3,272.7 1019.8,271.8 1029.8,278 1049,278.7" fill="#4453b0" stroke="#4453b0" stroke-width="0.6"/>
<polygon points="1206,292.4 1185.5,292 1193.1,296.4 1213.4,296.5" fill="#4551b0" stroke="#4551b0" stroke-width="0.6"/>
<polygon points="990.1,264.4 971,263.3 981.6,270.1 1000.6,271" fill="#4355b1" stroke="#4355b1" stroke-width="0.6"/>
<polygon points="1157.1,287.1 1136.9,286.5 1145.2,291.4 1165.2,291.7" fill="#4552b0" stroke="#4552b0" stroke-width="0.6"/>
<polygon points="1108.1,280.8 1088.2,280.1 1097.2,285.5 1116.9,286" fill="#4453b0" stroke="#4453b0" stroke-width="0.6"/>
<polygon points="940.8,255.1 921.8,253.9 933.3,261.2 952,262.3" fill="#3c5eb7" stroke="#3c5eb7" stroke-width="0.6"/>
<polygon points="1275.7,296.9 1254.6,296.7 1261.4,300.3 1282.1,300.3" fill="#4551b0" stroke="#4551b0" stroke-width="0.6"/>
<polygon points="1059,273.6 1039.3,272.7 1049,278.7 1068.5,279.4" fill="#4453b0" stroke="#4453b0" stroke-width="0.6"/>
<polygon points="1226.7,292.7 1206,292.4 1213.4,296.5 1233.9,296.6" fill="#4551b0" stroke="#4551b0" stroke-width="0.6"/>
<polygon points="1009.6,265.5 990.1,264.4 1000.6,271 1019.8,271.8" fill="#4256b2" stroke="#4256b2" stroke-width="0.6"/>
<polygon points="1177.6,287.6 1157.1,287.1 1165.2,291.7 1185.5,292" fill="#4552b0" stroke="#4552b0" stroke-width="0.6"/>
<polygon points="1128.3,281.5 1108.1,280.8 1116.9,286 1136.9,286.5" fill="#4453b0" stroke="#4453b0" stroke-width="0.6"/>
<polygon points="959.9,256.4 940.8,255.1 952,262.3 971,263.3" fill="#3a61b8" stroke="#3a61b8" stroke-width="0.6"/>
<polygon points="1078.9,274.5 1059,273.6 1068.5,279.4 1088.2,280.1" fill="#4454b0" stroke="#4454b0" stroke-width="0.6"/>
<polygon points="1247.7,293 1226.7,292.7 1233.9,296.6 1254.6,296.7" fill="#4552b0" stroke="#4552b0" stroke-width="0.6"/>
<polygon points="1029.2,266.6 1009.6,265.5 1019.8,271.8 1039.3,272.7" fill="#4256b2" stroke="#4256b2" stroke-width="0.6"/>
<polygon points="1198.3,288.1 1177.6,287.6 1185.5,292 1206,292.4" fill="#4552b0" stroke="#4552b0" stroke-width="0.6"/>
<polygon points="1148.8,282.3 1128.3,281.5 1136.9,286.5 1157.1,287.1" fill="#4453b0" stroke="#4453b0" stroke-width="0.6"/>
<polygon points="979.4,257.6 959.9,256.4 971,263.3 990.1,264.4" fill="#3965b9" stroke="#3965b9" stroke-width="0.6"/>
<polygon points="1099.1,275.4 1078.9,274.5 1088.2,280.1 1108.1,280.8" fill="#4454b0" stroke="#4454b0" stroke-width="0.6"/>
<polygon points="929.2,247.7 910.1,246.3 921.8,253.9 940.8,255.1" fill="#327ebd" stroke="#327ebd" stroke-width="0.6"/>
<polygon points="1269,293.4 1247.7,293 1254.6,296.7 1275.7,296.9" fill="#4552b0" stroke="#4552b0" stroke-width="0.6"/>
<polygon points="1049.2,267.7 1029.2,266.6 1039.3,272.7 1059,273.6" fill="#4157b3" stroke="#4157b3" stroke-width="0.6"/>
<polygon points="1219.3,288.6 1198.3,288.1 1206,292.4 1226.7,292.7" fill="#4453b0" stroke="#4453b0" stroke-width="0.6"/>
<polygon points="1169.5,283 1148.8,282.3 1157.1,287.1 1177.6,287.6" fill="#4453b0" stroke="#4453b0" stroke-width="0.6"/>
<polygon points="999,258.9 979.4,257.6 990.1,264.4 1009.6,265.5" fill="#3868bb" stroke="#3868bb" stroke-width="0.6"/>
<polygon points="1119.5,276.4 1099.1,275.4 1108.1,280.8 1128.3,281.5" fill="#4454b0" stroke="#4454b0" stroke-width="0.6"/>
<polygon points="948.6,249.2 929.2,247.7 940.8,255.1 959.9,256.4" fill="#3182bb" stroke="#3182bb" stroke-width="0.6"/>
<polygon points="1069.3,268.8 1049.2,267.7 1059,273.6 1078.9,274.5" fill="#4059b4" stroke="#4059b4" stroke-width="0.6"/>
<polygon points="1240.6,289.2 1219.3,288.6 1226.7,292.7 1247.7,293" fill="#4453b0" stroke="#4453b0" stroke-width="0.6"/>
<polygon points="1018.9,260.2 999,258.9 1009.6,265.5 1029.2,266.6" fill="#376bbc" stroke="#376bbc" stroke-width="0.6"/>
<polygon points="1190.5,283.7 1169.5,283 1177.6,287.6 1198.3,288.1" fill="#4454b0" stroke="#4454b0" stroke-width="0.6"/>
<polygon points="1140.2,277.3 1119.5,276.4 1128.3,281.5 1148.8,282.3" fill="#4355b1" stroke="#4355b1" stroke-width="0.6"/>
<polygon points="968.3,250.7 948.6,249.2 959.9,256.4 979.4,257.6" fill="#3086b8" stroke="#3086b8" stroke-width="0.6"/>
<polygon points="1089.8,269.9 1069.3,268.8 1078.9,274.5 1099.1,275.4" fill="#3d5cb6" stroke="#3d5cb6" stroke-width="0.6"/>
<polygon points="1262.1,289.7 1240.6,289.2 1247.7,293 1269,293.4" fill="#4453b0" stroke="#4453b0" stroke-width="0.6"/>
<polygon points="917.3,240.1 897.9,238.4 910.1,246.3 929.2,247.7" fill="#2a9c93" stroke="#2a9c93" stroke-width="0.6"/>
<polygon points="1039.1,261.5 1018.9,260.2 1029.2,266.6 1049.2,267.7" fill="#366ebe" stroke="#366ebe" stroke-width="0.6"/>
<polygon points="1211.7,284.5 1190.5,283.7 1198.3,288.1 1219.3,288.6" fill="#4454b0" stroke="#4454b0" stroke-width="0.6"/>
<polygon points="1161.2,278.3 1140.2,277.3 1148.8,282.3 1169.5,283" fill="#4256b2" stroke="#4256b2" stroke-width="0.6"/>
<polygon points="988.1,252.2 968.3,250.7 979.4,257.6 999,258.9" fill="#2f89b3" stroke="#2f89b3" stroke-width="0.6"/>
<polygon points="1110.4,271.1 1089.8,269.9 1099.1,275.4 1119.5,276.4" fill="#3b60b7" stroke="#3b60b7" stroke-width="0.6"/>
<polygon points="936.9,241.8 917.3,240.1 929.2,247.7 948.6,249.2" fill="#2a9d8f" stroke="#2a9d8f" stroke-width="0.6"/>
<polygon points="1059.5,262.9 1039.1,261.5 1049.2,267.7 1069.3,268.8" fill="#3571bf" stroke="#3571bf" stroke-width="0.6"/>
<polygon points="1233.3,285.3 1211.7,284.5 1219.3,288.6 1240.6,289.2" fill="#4454b0" stroke="#4454b0" stroke-width="0.6"/>
<polygon points="1182.4,279.2 1161.2,278.3 1169.5,283 1190.5,283.7" fill="#4157b3" stroke="#4157b3" stroke-width="0.6"/>
<polygon points="1008.3,253.7 988.1,252.2 999,258.9 1018.9,260.2" fill="#2e8daf" stroke="#2e8daf" stroke-width="0.6"/>
<polygon points="1131.4,272.2 1110.4,271.1 1119.5,276.4 1140.2,277.3" fill="#3964b9" stroke="#3964b9" stroke-width="0.6"/>
<polygon points="956.8,243.5 936.9,241.8 948.6,249.2 968.3,250.7" fill="#2a9f8c" stroke="#2a9f8c" stroke-width="0.6"/>
<polygon points="1080.1,264.2 1059.5,262.9 1069.3,268.8 1089.8,269.9" fill="#3475bf" stroke="#3475bf" stroke-width="0.6"/>
<polygon points="1255.1,286 1233.3,285.3 1240.6,289.2 1262.1,289.7" fill="#4355b1" stroke="#4355b1" stroke-width="0.6"/>
<polygon points="905,232.2 885.4,230.4 897.9,238.4 917.3,240.1" fill="#36af58" stroke="#36af58" stroke-width="0.6"/>
<polygon points="1203.9,280.2 1182.4,279.2 1190.5,283.7 1211.7,284.5" fill="#3f59b4" stroke="#3f59b4" stroke-width="0.6"/>
<polygon points="1028.7,255.2 1008.3,253.7 1018.9,260.2 1039.1,261.5" fill="#2d91aa" stroke="#2d91aa" stroke-width="0.6"/>
<polygon points="1152.6,273.4 1131.4,272.2 1140.2,277.3 1161.2,278.3" fill="#3867ba" stroke="#3867ba" stroke-width="0.6"/>
<polygon points="976.9,245.2 956.8,243.5 968.3,250.7 988.1,252.2" fill="#2aa088" stroke="#2aa088" stroke-width="0.6"/>
<polygon points="1101.1,265.6 1080.1,264.2 1089.8,269.9 1110.4,271.1" fill="#337abe" stroke="#337abe" stroke-width="0.6"/>
<polygon points="924.9,234.1 905,232.2 917.3,240.1 936.9,241.8" fill="#37b056" stroke="#37b056" stroke-width="0.6"/>
<polygon points="1049.3,256.8 1028.7,255.2 1039.1,261.5 1059.5,262.9" fill="#2b95a6" stroke="#2b95a6" stroke-width="0.6"/>
<polygon points="1225.7,281.2 1203.9,280.2 1211.7,284.5 1233.3,285.3" fill="#3d5db6" stroke="#3d5db6" stroke-width="0.6"/>
<polygon points="1174.1,274.6 1152.6,273.4 1161.2,278.3 1182.4,279.2" fill="#376bbc" stroke="#376bbc" stroke-width="0.6"/>
<polygon points="997.3,246.9 976.9,245.2 988.1,252.2 1008.3,253.7" fill="#2ba282" stroke="#2ba282" stroke-width="0.6"/>
<polygon points="1122.3,267 1101.1,265.6 1110.4,271.1 1131.4,272.2" fill="#327fbc" stroke="#327fbc" stroke-width="0.6"/>
<polygon points="945,236.1 924.9,234.1 936.9,241.8 956.8,243.5" fill="#38b154" stroke="#38b154" stroke-width="0.6"/>
<polygon points="1070.2,258.4 1049.3,256.8 1059.5,262.9 1080.1,264.2" fill="#2b97a1" stroke="#2b97a1" stroke-width="0.6"/>
<polygon points="1247.8,282.2 1225.7,281.2 1233.3,285.3 1255.1,286" fill="#3a61b8" stroke="#3a61b8" stroke-width="0.6"/>
<polygon points="892.4,224.1 872.5,222 885.4,230.4 905,232.2" fill="#67bf45" stroke="#67bf45" stroke-width="0.6"/>
<polygon points="1195.9,275.8 1174.1,274.6 1182.4,279.2 1203.9,280.2" fill="#366fbe" stroke="#366fbe" stroke-width="0.6"/>
<polygon points="1018,248.7 997.3,246.9 1008.3,253.7 1028.7,255.2" fill="#2da47c" stroke="#2da47c" stroke-width="0.6"/>
<polygon points="1143.8,268.4 1122.3,267 1131.4,272.2 1152.6,273.4" fill="#3184ba" stroke="#3184ba" stroke-width="0.6"/>
<polygon points="965.4,238 945,236.1 956.8,243.5 976.9,245.2" fill="#39b152" stroke="#39b152" stroke-width="0.6"/>
<polygon points="1091.4,260 1070.2,258.4 1080.1,264.2 1101.1,265.6" fill="#2b999d" stroke="#2b999d" stroke-width="0.6"/>
<polygon points="912.5,226.3 892.4,224.1 905,232.2 924.9,234.1" fill="#69bf44" stroke="#69bf44" stroke-width="0.6"/>
<polygon points="1217.9,277 1195.9,275.8 1203.9,280.2 1225.7,281.2" fill="#3472c0" stroke="#3472c0" stroke-width="0.6"/>
<polygon points="1038.9,250.5 1018,248.7 1028.7,255.2 1049.3,256.8" fill="#2ea576" stroke="#2ea576" stroke-width="0.6"/>
<polygon points="1165.5,269.8 1143.8,268.4 1152.6,273.4 1174.1,274.6" fill="#2f88b5" stroke="#2f88b5" stroke-width="0.6"/>
<polygon points="986,240 965.4,238 976.9,245.2 997.3,246.9" fill="#3bb250" stroke="#3bb250" stroke-width="0.6"/>
<polygon points="1112.9,261.6 1091.4,260 1101.1,265.6 1122.3,267" fill="#2b9a98" stroke="#2b9a98" stroke-width="0.6"/>
<polygon points="932.8,228.4 912.5,226.3 924.9,234.1 945,236.1" fill="#6cc044" stroke="#6cc044" stroke-width="0.6"/>
<polygon points="1240.3,278.3 1217.9,277 1225.7,281.2 1247.8,282.2" fill="#3377bf" stroke="#3377bf" stroke-width="0.6"/>
<polygon points="1060,252.3 1038.9,250.5 1049.3,256.8 1070.2,258.4" fill="#2fa770" stroke="#2fa770" stroke-width="0.6"/>
<polygon points="1187.6,271.3 1165.5,269.8 1174.1,274.6 1195.9,275.8" fill="#2e8daf" stroke="#2e8daf" stroke-width="0.6"/>
<polygon points="879.3,215.8 859.2,213.5 872.5,222 892.4,224.1" fill="#98cb40" stroke="#98cb40" stroke-width="0.6"/>
<polygon points="1006.9,242 986,240 997.3,246.9 1018,248.7" fill="#3fb44e" stroke="#3fb44e" stroke-width="0.6"/>
<polygon points="1134.7,263.2 1112.9,261.6 1122.3,267 1143.8,268.4" fill="#2a9c94" stroke="#2a9c94" stroke-width="0.6"/>
<polygon points="953.4,230.6 932.8,228.4 945,236.1 965.4,238" fill="#6ec044" stroke="#6ec044" stroke-width="0.6"/>
<polygon points="1081.5,254.1 1060,252.3 1070.2,258.4 1091.4,260" fill="#30a969" stroke="#30a969" stroke-width="0.6"/>
<polygon points="899.7,218.1 879.3,215.8 892.4,224.1 912.5,226.3" fill="#99cb3f" stroke="#99cb3f" stroke-width="0.6"/>
<polygon points="1209.9,272.7 1187.6,271.3 1195.9,275.8 1217.9,277" fill="#2d91aa" stroke="#2d91aa" stroke-width="0.6"/>
<polygon points="1028.1,244 1006.9,242 1018,248.7 1038.9,250.5" fill="#43b54d" stroke="#43b54d" stroke-width="0.6"/>
<polygon points="1156.7,264.9 1134.7,263.2 1143.8,268.4 1165.5,269.8" fill="#2a9d90" stroke="#2a9d90" stroke-width="0.6"/>
<polygon points="974.3,232.8 953.4,230.6 965.4,238 986,240" fill="#71c144" stroke="#71c144" stroke-width="0.6"/>
<polygon points="1103.2,256 1081.5,254.1 1091.4,260 1112.9,261.6" fill="#32ab63" stroke="#32ab63" stroke-width="0.6"/>
<polygon points="920.3,220.5 899.7,218.1 912.5,226.3 932.8,228.4" fill="#9acc3f" stroke="#9acc3f" stroke-width="0.6"/>
<polygon points="1232.6,274.2 1209.9,272.7 1217.9,277 1240.3,278.3" fill="#2b96a4" stroke="#2b96a4" stroke-width="0.6"/>
<polygon points="1049.5,246.1 1028.1,244 1038.9,250.5 1060,252.3" fill="#47b64b" stroke="#47b64b" stroke-width="0.6"/>
<polygon points="1179,266.6 1156.7,264.9 1165.5,269.8 1187.6,271.3" fill="#2a9f8b" stroke="#2a9f8b" stroke-width="0.6"/>
<polygon points="865.9,207.2 845.5,204.6 859.2,213.5 879.3,215.8" fill="#bad63a" stroke="#bad63a" stroke-width="0.6"/>
<polygon points="995.5,235 974.3,232.8 986,240 1006.9,242" fill="#73c244" stroke="#73c244" stroke-width="0.6"/>
<polygon points="1125.3,257.9 1103.2,256 1112.9,261.6 1134.7,263.2" fill="#33ac60" stroke="#33ac60" stroke-width="0.6"/>
<polygon points="941.1,223 920.3,220.5 932.8,228.4 953.4,230.6" fill="#9bcc3f" stroke="#9bcc3f" stroke-width="0.6"/>
<polygon points="1071.2,248.1 1049.5,246.1 1060,252.3 1081.5,254.1" fill="#4bb74a" stroke="#4bb74a" stroke-width="0.6"/>
<polygon points="1201.7,268.3 1179,266.6 1187.6,271.3 1209.9,272.7" fill="#2aa186" stroke="#2aa186" stroke-width="0.6"/>
<polygon points="886.4,209.8 865.9,207.2 879.3,215.8 899.7,218.1" fill="#bad639" stroke="#bad639" stroke-width="0.6"/>
<polygon points="1016.9,237.3 995.5,235 1006.9,242 1028.1,244" fill="#75c243" stroke="#75c243" stroke-width="0.6"/>
<polygon points="1147.6,259.8 1125.3,257.9 1134.7,263.2 1156.7,264.9" fill="#34ad5d" stroke="#34ad5d" stroke-width="0.6"/>
<polygon points="962.3,225.4 941.1,223 953.4,230.6 974.3,232.8" fill="#9ccc3f" stroke="#9ccc3f" stroke-width="0.6"/>
<polygon points="1093.3,250.2 1071.2,248.1 1081.5,254.1 1103.2,256" fill="#4fb848" stroke="#4fb848" stroke-width="0.6"/>
<polygon points="1224.6,270 1201.7,268.3 1209.9,272.7 1232.6,274.2" fill="#2ca37e" stroke="#2ca37e" stroke-width="0.6"/>
<polygon points="907.3,212.4 886.4,209.8 899.7,218.1 920.3,220.5" fill="#bad739" stroke="#bad739" stroke-width="0.6"/>
<polygon points="1038.6,239.6 1016.9,237.3 1028.1,244 1049.5,246.1" fill="#78c343" stroke="#78c343" stroke-width="0.6"/>
<polygon points="1170.2,261.7 1147.6,259.8 1156.7,264.9 1179,266.6" fill="#36ae5a" stroke="#36ae5a" stroke-width="0.6"/>
<polygon points="983.7,227.9 962.3,225.4 974.3,232.8 995.5,235" fill="#9dcd3f" stroke="#9dcd3f" stroke-width="0.6"/>
<polygon points="1115.6,252.4 1093.3,250.2 1103.2,256 1125.3,257.9" fill="#53b947" stroke="#53b947" stroke-width="0.6"/>
<polygon points="928.4,215.1 907.3,212.4 920.3,220.5 941.1,223" fill="#bad739" stroke="#bad739" stroke-width="0.6"/>
<polygon points="1060.6,241.9 1038.6,239.6 1049.5,246.1 1071.2,248.1" fill="#7ac343" stroke="#7ac343" stroke-width="0.6"/>
<polygon points="1193.1,263.7 1170.2,261.7 1179,266.6 1201.7,268.3" fill="#37af57" stroke="#37af57" stroke-width="0.6"/>
<polygon points="1005.4,230.4 983.7,227.9 995.5,235 1016.9,237.3" fill="#9ecd3e" stroke="#9ecd3e" stroke-width="0.6"/>
<polygon points="1138.2,254.5 1115.6,252.4 1125.3,257.9 1147.6,259.8" fill="#56ba47" stroke="#56ba47" stroke-width="0.6"/>
<polygon points="949.8,217.8 928.4,215.1 941.1,223 962.3,225.4" fill="#bbd739" stroke="#bbd739" stroke-width="0.6"/>
<polygon points="1082.9,244.3 1060.6,241.9 1071.2,248.1 1093.3,250.2" fill="#7dc443" stroke="#7dc443" stroke-width="0.6"/>
<polygon points="1216.4,265.7 1193.1,263.7 1201.7,268.3 1224.6,270" fill="#38b054" stroke="#38b054" stroke-width="0.6"/>
<polygon points="1027.4,233 1005.4,230.4 1016.9,237.3 1038.6,239.6" fill="#9fcd3e" stroke="#9fcd3e" stroke-width="0.6"/>
<polygon points="1161.1,256.7 1138.2,254.5 1147.6,259.8 1170.2,261.7" fill="#5abb46" stroke="#5abb46" stroke-width="0.6"/>
<polygon points="971.5,220.5 949.8,217.8 962.3,225.4 983.7,227.9" fill="#bbd739" stroke="#bbd739" stroke-width="0.6"/>
<polygon points="1105.6,246.7 1082.9,244.3 1093.3,250.2 1115.6,252.4" fill="#7fc443" stroke="#7fc443" stroke-width="0.6"/>
<polygon points="1049.7,235.5 1027.4,233 1038.6,239.6 1060.6,241.9" fill="#9fcd3e" stroke="#9fcd3e" stroke-width="0.6"/>
<polygon points="1184.3,259 1161.1,256.7 1170.2,261.7 1193.1,263.7" fill="#5dbc46" stroke="#5dbc46" stroke-width="0.6"/>
<polygon points="993.5,223.3 971.5,220.5 983.7,227.9 1005.4,230.4" fill="#bbd739" stroke="#bbd739" stroke-width="0.6"/>
<polygon points="1128.5,249.1 1105.6,246.7 1115.6,252.4 1138.2,254.5" fill="#82c543" stroke="#82c543" stroke-width="0.6"/>
<polygon points="1072.3,238.2 1049.7,235.5 1060.6,241.9 1082.9,244.3" fill="#a0ce3e" stroke="#a0ce3e" stroke-width="0.6"/>
<polygon points="1207.9,261.2 1184.3,259 1193.1,263.7 1216.4,265.7" fill="#60bd45" stroke="#60bd45" stroke-width="0.6"/>
<polygon points="1015.8,226.1 993.5,223.3 1005.4,230.4 1027.4,233" fill="#bbd739" stroke="#bbd739" stroke-width="0.6"/>
<polygon points="1151.7,251.6 1128.5,249.1 1138.2,254.5 1161.1,256.7" fill="#84c643" stroke="#84c643" stroke-width="0.6"/>
<polygon points="1095.2,240.8 1072.3,238.2 1082.9,244.3 1105.6,246.7" fill="#a1ce3e" stroke="#a1ce3e" stroke-width="0.6"/>
<polygon points="1038.4,228.9 1015.8,226.1 1027.4,233 1049.7,235.5" fill="#bcd739" stroke="#bcd739" stroke-width="0.6"/>
<polygon points="1175.2,254.1 1151.7,251.6 1161.1,256.7 1184.3,259" fill="#86c642" stroke="#86c642" stroke-width="0.6"/>
<polygon points="1118.4,243.5 1095.2,240.8 1105.6,246.7 1128.5,249.1" fill="#a2ce3d" stroke="#a2ce3d" stroke-width="0.6"/>
<polygon points="1061.3,231.8 1038.4,228.9 1049.7,235.5 1072.3,238.2" fill="#bcd739" stroke="#bcd739" stroke-width="0.6"/>
<polygon points="1199.1,256.6 1175.2,254.1 1184.3,259 1207.9,261.2" fill="#89c742" stroke="#89c742" stroke-width="0.6"/>
<polygon points="1142,246.3 1118.4,243.5 1128.5,249.1 1151.7,251.6" fill="#a3cf3d" stroke="#a3cf3d" stroke-width="0.6"/>
<polygon points="1084.5,234.8 1061.3,231.8 1072.3,238.2 1095.2,240.8" fill="#bcd739" stroke="#bcd739" stroke-width="0.6"/>
<polygon points="1165.8,249 1142,246.3 1151.7,251.6 1175.2,254.1" fill="#a4cf3d" stroke="#a4cf3d" stroke-width="0.6"/>
<polygon points="1108.1,237.7 1084.5,234.8 1095.2,240.8 1118.4,243.5" fill="#bcd739" stroke="#bcd739" stroke-width="0.6"/>
<polygon points="1190,251.8 1165.8,249 1175.2,254.1 1199.1,256.6" fill="#a5cf3d" stroke="#a5cf3d" stroke-width="0.6"/>
<polygon points="1131.9,240.7 1108.1,237.7 1118.4,243.5 1142,246.3" fill="#bdd738" stroke="#bdd738" stroke-width="0.6"/>
<polygon points="1156.1,243.8 1131.9,240.7 1142,246.3 1165.8,249" fill="#bdd738" stroke="#bdd738" stroke-width="0.6"/>
<polygon points="1180.7,246.9 1156.1,243.8 1165.8,249 1190,251.8" fill="#bdd738" stroke="#bdd738" stroke-width="0.6"/>
<path d="M840.1 65.7L1010.7 20.3M1010.7 20.3L1304.3 39.2M840.1 65.7L853.8 415.8M1010.7 20.3L1014.1 314.9M1304.3 39.2L1292.7 357.5M853.8 415.8L1014.1 314.9M1014.1 314.9L1292.7 357.5M853.8 415.8L1176.8 478M1176.8 478L1292.7 357.5" fill="none" stroke="#a0a0a0" stroke-width="1.2" style="mix-blend-mode:multiply"/>
<g fill="#8a8aa2" style="mix-blend-mode:multiply"><circle cx="993.5" cy="243.6" r="7"/><circle cx="1018" cy="273" r="7"/></g>
<path d="M1180.7 246.9L1294.6 306.8M1180.7 246.9L845.5 204.6M1156.1 243.8L1274.3 307.3M1190 251.8L859.2 213.5M1131.9 240.7L1254.2 307.8M1199.1 256.6L872.5 222M1108.1 237.7L1234.4 308.2M1207.9 261.2L885.4 230.4M1084.5 234.8L1214.8 308.7M1216.4 265.7L897.9 238.4M1061.3 231.8L1195.4 309.1M1224.6 270L910.1 246.3M1038.4 228.9L1176.3 309.6M1232.6 274.2L921.8 253.9M1015.8 226.1L1157.4 310M1240.3 278.3L933.3 261.2M993.5 223.3L1138.8 310.5M1247.8 282.2L944.4 268.4M971.5 220.5L1120.3 310.9M1255.1 286L955.2 275.4M949.8 217.8L1102.1 311.3M1262.1 289.7L965.7 282.2M928.4 215.1L1084.1 311.8M1269 293.4L975.9 288.7M907.3 212.4L1066.3 312.2M1275.7 296.9L985.8 295.2M886.4 209.8L1048.7 312.6M1282.1 300.3L995.5 301.4M865.9 207.2L1031.3 313M1288.4 303.6L1004.9 307.5M845.5 204.6L1014 313.4M1294.6 306.8L1014 313.4" fill="none" stroke="#fff" stroke-width="2.6" opacity="0.35"/>
<path d="M1180.7 246.9L1294.6 306.8M1180.7 246.9L845.5 204.6M1156.1 243.8L1274.3 307.3M1190 251.8L859.2 213.5M1131.9 240.7L1254.2 307.8M1199.1 256.6L872.5 222M1108.1 237.7L1234.4 308.2M1207.9 261.2L885.4 230.4M1084.5 234.8L1214.8 308.7M1216.4 265.7L897.9 238.4M1061.3 231.8L1195.4 309.1M1224.6 270L910.1 246.3M1038.4 228.9L1176.3 309.6M1232.6 274.2L921.8 253.9M1015.8 226.1L1157.4 310M1240.3 278.3L933.3 261.2M993.5 223.3L1138.8 310.5M1247.8 282.2L944.4 268.4M971.5 220.5L1120.3 310.9M1255.1 286L955.2 275.4M949.8 217.8L1102.1 311.3M1262.1 289.7L965.7 282.2M928.4 215.1L1084.1 311.8M1269 293.4L975.9 288.7M907.3 212.4L1066.3 312.2M1275.7 296.9L985.8 295.2M886.4 209.8L1048.7 312.6M1282.1 300.3L995.5 301.4M865.9 207.2L1031.3 313M1288.4 303.6L1004.9 307.5M845.5 204.6L1014 313.4M1294.6 306.8L1014 313.4" fill="none" stroke="#000" stroke-width="1.1"/>
<g fill="#050505"><circle cx="968.3" cy="108" r="7"/><polygon points="1006.5,159.6 1013.1,170.8 999.9,170.8" stroke="#fff" stroke-width="1.2" paint-order="stroke" stroke-linejoin="round"/><circle cx="915.3" cy="233.8" r="7"/><circle cx="1168.8" cy="117.4" r="7"/><circle cx="1168.8" cy="173.5" r="7"/><circle cx="1209.8" cy="229.2" r="7"/><polygon points="1125.3,229 1132,240.2 1118.6,240.2" stroke="#fff" stroke-width="1.2" paint-order="stroke" stroke-linejoin="round"/><polygon points="1252.4,246.9 1259.1,258.1 1245.8,258.1" stroke="#fff" stroke-width="1.2" paint-order="stroke" stroke-linejoin="round"/><polygon points="1257.4,280.8 1264.1,292 1250.8,292" stroke="#fff" stroke-width="1.2" paint-order="stroke" stroke-linejoin="round"/><circle cx="1208.5" cy="294.1" r="7"/><polygon points="1226.2,287.1 1232.9,298.3 1219.5,298.3" stroke="#fff" stroke-width="1.2" paint-order="stroke" stroke-linejoin="round"/><polygon points="1222.1,290.6 1228.8,301.8 1215.4,301.8" stroke="#fff" stroke-width="1.2" paint-order="stroke" stroke-linejoin="round"/><polygon points="1177.3,342.8 1184,354 1170.6,354" stroke="#fff" stroke-width="1.2" paint-order="stroke" stroke-linejoin="round"/><polygon points="1176.4,351.8 1183.1,363 1169.8,363" stroke="#fff" stroke-width="1.2" paint-order="stroke" stroke-linejoin="round"/><polygon points="1027,267.2 1033.7,278.4 1020.4,278.4" stroke="#fff" stroke-width="1.2" paint-order="stroke" stroke-linejoin="round"/><polygon points="1067,287 1073.7,298.2 1060.3,298.2" stroke="#fff" stroke-width="1.2" paint-order="stroke" stroke-linejoin="round"/><polygon points="1061.5,288.9 1068.2,300.1 1054.8,300.1" stroke="#fff" stroke-width="1.2" paint-order="stroke" stroke-linejoin="round"/></g>
<rect x="1310.3" y="38.6" width="60.2" height="18.5" fill="#2b2a73" stroke="#000" stroke-width="2"/><text x="1385.50" y="57.15" font-size="27">-6</text><rect x="1310.3" y="72.8" width="60.2" height="18.5" fill="#3a4ea3" stroke="#000" stroke-width="2"/><text x="1385.50" y="91.40" font-size="27">0</text><rect x="1310.3" y="107.1" width="60.2" height="18.5" fill="#0f6b6b" stroke="#000" stroke-width="2"/><text x="1385.50" y="125.65" font-size="27">6</text><rect x="1310.3" y="141.3" width="60.2" height="18.5" fill="#80c342" stroke="#000" stroke-width="2"/><text x="1385.50" y="159.90" font-size="27">12</text><rect x="1310.3" y="175.6" width="60.2" height="18.5" fill="#f8e514" stroke="#000" stroke-width="2"/><text x="1385.50" y="194.15" font-size="27">18</text><rect x="1310.3" y="209.8" width="60.2" height="18.5" fill="#f47a20" stroke="#000" stroke-width="2"/><text x="1385.50" y="228.40" font-size="27">24</text>
<text x="797.95" y="90.50" font-size="30">24</text><text x="801.40" y="157.10" font-size="30">18</text><text x="803.80" y="222.30" font-size="30">12</text><text x="822.85" y="286.40" font-size="30">6</text><text x="826.20" y="349.55" font-size="30">0</text><text x="817.45" y="411.60" font-size="30">-6</text><text x="863.00" y="457.65" font-size="30">25</text><text x="913.80" y="466.90" font-size="30">20</text><text x="967.60" y="477.50" font-size="30">15</text><text x="1021.45" y="488.80" font-size="30">10</text><text x="1095.40" y="499.35" font-size="30">5</text><text x="1153.35" y="510.85" font-size="30">0</text><text x="812.15" y="449.15" font-size="30">30</text><text x="1304.90" y="369.95" font-size="30">1500</text><text x="1270.60" y="404.85" font-size="30">1000</text><text x="1233.00" y="444.70" font-size="30">500</text><text x="1190.15" y="490.15" font-size="30">0</text>
<path d="M126 699L296.6 653.7M296.6 653.7L590.2 672.6M126 699L139.7 1049.2M296.6 653.7L300 948.3M590.2 672.6L578.6 990.9M139.7 1049.2L300 948.3M300 948.3L578.6 990.9M139.7 1049.2L462.7 1111.4M462.7 1111.4L578.6 990.9M126 699L132.1 697.4M128.4 760.3L134.5 758.3M130.7 820.4L136.7 818M133.1 879.3L139 876.6M135.3 937L141.2 934M137.6 993.6L143.3 990.3M139.7 1049.2L145.5 1045.6M404.3 1100.2L408.8 1095.9M347.9 1089.3L352.7 1085.2M293.4 1078.8L298.4 1074.8M240.5 1068.6L245.8 1064.8M189.3 1058.7L194.8 1055M506.5 1065.8L498.2 1064.3M544.9 1026L536.9 1024.7" fill="none" stroke="#231f20" stroke-width="1.3"/>
<polygon points="306.1,730 287.9,717.4 297.3,709.4 315.3,721.9" fill="#f7ad2d" stroke="#f7ad2d" stroke-width="0.6"/>
<polygon points="324.4,742.6 306.1,730 315.3,721.9 333.4,734.6" fill="#f9c92b" stroke="#f9c92b" stroke-width="0.6"/>
<polygon points="342.8,755.3 324.4,742.6 333.4,734.6 351.7,747.3" fill="#f7df2c" stroke="#f7df2c" stroke-width="0.6"/>
<polygon points="296.7,738.2 278.3,725.6 287.9,717.4 306.1,730" fill="#f8b92c" stroke="#f8b92c" stroke-width="0.6"/>
<polygon points="361.4,768.2 342.8,755.3 351.7,747.3 370.1,760.2" fill="#f3e72d" stroke="#f3e72d" stroke-width="0.6"/>
<polygon points="315.1,750.8 296.7,738.2 306.1,730 324.4,742.6" fill="#f8d42c" stroke="#f8d42c" stroke-width="0.6"/>
<polygon points="380.1,781.1 361.4,768.2 370.1,760.2 388.6,773.1" fill="#e5e330" stroke="#e5e330" stroke-width="0.6"/>
<polygon points="398.9,794.1 380.1,781.1 388.6,773.1 407.3,786.1" fill="#c5d936" stroke="#c5d936" stroke-width="0.6"/>
<polygon points="333.7,763.5 315.1,750.8 324.4,742.6 342.8,755.3" fill="#f6e32d" stroke="#f6e32d" stroke-width="0.6"/>
<polygon points="287.1,746.5 268.6,734 278.3,725.6 296.7,738.2" fill="#f9c52b" stroke="#f9c52b" stroke-width="0.6"/>
<polygon points="417.9,807.3 398.9,794.1 407.3,786.1 426.1,799.2" fill="#a8d03c" stroke="#a8d03c" stroke-width="0.6"/>
<polygon points="352.5,776.4 333.7,763.5 342.8,755.3 361.4,768.2" fill="#f1e62e" stroke="#f1e62e" stroke-width="0.6"/>
<polygon points="305.7,759.2 287.1,746.5 296.7,738.2 315.1,750.8" fill="#f8dd2c" stroke="#f8dd2c" stroke-width="0.6"/>
<polygon points="437.1,820.5 417.9,807.3 426.1,799.2 445,812.4" fill="#86c642" stroke="#86c642" stroke-width="0.6"/>
<polygon points="371.4,789.3 352.5,776.4 361.4,768.2 380.1,781.1" fill="#d9df31" stroke="#d9df31" stroke-width="0.6"/>
<polygon points="456.3,833.8 437.1,820.5 445,812.4 464.1,825.8" fill="#56ba47" stroke="#56ba47" stroke-width="0.6"/>
<polygon points="324.5,771.9 305.7,759.2 315.1,750.8 333.7,763.5" fill="#f4e82d" stroke="#f4e82d" stroke-width="0.6"/>
<polygon points="390.4,802.3 371.4,789.3 380.1,781.1 398.9,794.1" fill="#bbd739" stroke="#bbd739" stroke-width="0.6"/>
<polygon points="277.2,755.1 258.6,742.6 268.6,734 287.1,746.5" fill="#f9d12b" stroke="#f9d12b" stroke-width="0.6"/>
<polygon points="475.8,847.2 456.3,833.8 464.1,825.8 483.4,839.2" fill="#33ac60" stroke="#33ac60" stroke-width="0.6"/>
<polygon points="343.4,784.7 324.5,771.9 333.7,763.5 352.5,776.4" fill="#ece42f" stroke="#ece42f" stroke-width="0.6"/>
<polygon points="409.6,815.5 390.4,802.3 398.9,794.1 417.9,807.3" fill="#9ecd3e" stroke="#9ecd3e" stroke-width="0.6"/>
<polygon points="296,767.7 277.2,755.1 287.1,746.5 305.7,759.2" fill="#f6e22c" stroke="#f6e22c" stroke-width="0.6"/>
<polygon points="495.3,860.7 475.8,847.2 483.4,839.2 502.7,852.7" fill="#2b9a98" stroke="#2b9a98" stroke-width="0.6"/>
<polygon points="362.5,797.7 343.4,784.7 352.5,776.4 371.4,789.3" fill="#ccdb34" stroke="#ccdb34" stroke-width="0.6"/>
<polygon points="428.9,828.7 409.6,815.5 417.9,807.3 437.1,820.5" fill="#76c243" stroke="#76c243" stroke-width="0.6"/>
<polygon points="515,874.4 495.3,860.7 502.7,852.7 522.2,866.3" fill="#327dbd" stroke="#327dbd" stroke-width="0.6"/>
<polygon points="315,780.5 296,767.7 305.7,759.2 324.5,771.9" fill="#f2e72e" stroke="#f2e72e" stroke-width="0.6"/>
<polygon points="448.4,842 428.9,828.7 437.1,820.5 456.3,833.8" fill="#45b54c" stroke="#45b54c" stroke-width="0.6"/>
<polygon points="381.7,810.7 362.5,797.7 371.4,789.3 390.4,802.3" fill="#b1d33b" stroke="#b1d33b" stroke-width="0.6"/>
<polygon points="267.2,763.9 248.4,751.3 258.6,742.6 277.2,755.1" fill="#f8dc2c" stroke="#f8dc2c" stroke-width="0.6"/>
<polygon points="534.9,888.1 515,874.4 522.2,866.3 541.9,880" fill="#3b61b8" stroke="#3b61b8" stroke-width="0.6"/>
<polygon points="334.1,793.3 315,780.5 324.5,771.9 343.4,784.7" fill="#e1e130" stroke="#e1e130" stroke-width="0.6"/>
<polygon points="468,855.4 448.4,842 456.3,833.8 475.8,847.2" fill="#2ea673" stroke="#2ea673" stroke-width="0.6"/>
<polygon points="401,823.8 381.7,810.7 390.4,802.3 409.6,815.5" fill="#93ca41" stroke="#93ca41" stroke-width="0.6"/>
<polygon points="286.2,776.5 267.2,763.9 277.2,755.1 296,767.7" fill="#f5e62d" stroke="#f5e62d" stroke-width="0.6"/>
<polygon points="554.9,901.9 534.9,888.1 541.9,880 561.7,893.8" fill="#4454b0" stroke="#4454b0" stroke-width="0.6"/>
<polygon points="353.3,806.3 334.1,793.3 343.4,784.7 362.5,797.7" fill="#c2d937" stroke="#c2d937" stroke-width="0.6"/>
<polygon points="487.8,869 468,855.4 475.8,847.2 495.3,860.7" fill="#2b96a3" stroke="#2b96a3" stroke-width="0.6"/>
<polygon points="420.5,837.1 401,823.8 409.6,815.5 428.9,828.7" fill="#66bf45" stroke="#66bf45" stroke-width="0.6"/>
<polygon points="575.1,915.8 554.9,901.9 561.7,893.8 581.7,907.7" fill="#4453b0" stroke="#4453b0" stroke-width="0.6"/>
<polygon points="305.3,789.2 286.2,776.5 296,767.7 315,780.5" fill="#efe52f" stroke="#efe52f" stroke-width="0.6"/>
<polygon points="507.7,882.6 487.8,869 495.3,860.7 515,874.4" fill="#3473c0" stroke="#3473c0" stroke-width="0.6"/>
<polygon points="372.7,819.3 353.3,806.3 362.5,797.7 381.7,810.7" fill="#a6cf3c" stroke="#a6cf3c" stroke-width="0.6"/>
<polygon points="440.2,850.4 420.5,837.1 428.9,828.7 448.4,842" fill="#38b054" stroke="#38b054" stroke-width="0.6"/>
<polygon points="256.9,772.8 237.9,760.3 248.4,751.3 267.2,763.9" fill="#f6e12c" stroke="#f6e12c" stroke-width="0.6"/>
<polygon points="324.6,802.1 305.3,789.2 315,780.5 334.1,793.3" fill="#d3dd32" stroke="#d3dd32" stroke-width="0.6"/>
<polygon points="527.7,896.4 507.7,882.6 515,874.4 534.9,888.1" fill="#3e5bb5" stroke="#3e5bb5" stroke-width="0.6"/>
<polygon points="392.3,832.4 372.7,819.3 381.7,810.7 401,823.8" fill="#85c643" stroke="#85c643" stroke-width="0.6"/>
<polygon points="460,863.9 440.2,850.4 448.4,842 468,855.4" fill="#2aa087" stroke="#2aa087" stroke-width="0.6"/>
<polygon points="276.1,785.5 256.9,772.8 267.2,763.9 286.2,776.5" fill="#f2e72e" stroke="#f2e72e" stroke-width="0.6"/>
<polygon points="344,815 324.6,802.1 334.1,793.3 353.3,806.3" fill="#b7d63a" stroke="#b7d63a" stroke-width="0.6"/>
<polygon points="548,910.2 527.7,896.4 534.9,888.1 554.9,901.9" fill="#4454b0" stroke="#4454b0" stroke-width="0.6"/>
<polygon points="412,845.7 392.3,832.4 401,823.8 420.5,837.1" fill="#57ba46" stroke="#57ba46" stroke-width="0.6"/>
<polygon points="480,877.4 460,863.9 468,855.4 487.8,869" fill="#2e8daf" stroke="#2e8daf" stroke-width="0.6"/>
<polygon points="295.4,798.2 276.1,785.5 286.2,776.5 305.3,789.2" fill="#e5e230" stroke="#e5e230" stroke-width="0.6"/>
<polygon points="568.4,924.2 548,910.2 554.9,901.9 575.1,915.8" fill="#4552b0" stroke="#4552b0" stroke-width="0.6"/>
<polygon points="363.6,828.1 344,815 353.3,806.3 372.7,819.3" fill="#9bcc3f" stroke="#9bcc3f" stroke-width="0.6"/>
<polygon points="500.1,891.1 480,877.4 487.8,869 507.7,882.6" fill="#366dbd" stroke="#366dbd" stroke-width="0.6"/>
<polygon points="431.9,859 412,845.7 420.5,837.1 440.2,850.4" fill="#34ad5e" stroke="#34ad5e" stroke-width="0.6"/>
<polygon points="246.4,782 227.2,769.5 237.9,760.3 256.9,772.8" fill="#f5e52d" stroke="#f5e52d" stroke-width="0.6"/>
<polygon points="314.8,811.1 295.4,798.2 305.3,789.2 324.6,802.1" fill="#c7da35" stroke="#c7da35" stroke-width="0.6"/>
<polygon points="383.3,841.2 363.6,828.1 372.7,819.3 392.3,832.4" fill="#74c244" stroke="#74c244" stroke-width="0.6"/>
<polygon points="520.4,904.8 500.1,891.1 507.7,882.6 527.7,896.4" fill="#4157b3" stroke="#4157b3" stroke-width="0.6"/>
<polygon points="451.9,872.5 431.9,859 440.2,850.4 460,863.9" fill="#2a9c93" stroke="#2a9c93" stroke-width="0.6"/>
<polygon points="265.7,794.6 246.4,782 256.9,772.8 276.1,785.5" fill="#f0e62f" stroke="#f0e62f" stroke-width="0.6"/>
<polygon points="334.4,824 314.8,811.1 324.6,802.1 344,815" fill="#add23b" stroke="#add23b" stroke-width="0.6"/>
<polygon points="403.2,854.5 383.3,841.2 392.3,832.4 412,845.7" fill="#46b54c" stroke="#46b54c" stroke-width="0.6"/>
<polygon points="540.9,918.7 520.4,904.8 527.7,896.4 548,910.2" fill="#4453b0" stroke="#4453b0" stroke-width="0.6"/>
<polygon points="472.1,886.1 451.9,872.5 460,863.9 480,877.4" fill="#3183ba" stroke="#3183ba" stroke-width="0.6"/>
<polygon points="285.2,807.4 265.7,794.6 276.1,785.5 295.4,798.2" fill="#d8df31" stroke="#d8df31" stroke-width="0.6"/>
<polygon points="354.2,837.1 334.4,824 344,815 363.6,828.1" fill="#90c942" stroke="#90c942" stroke-width="0.6"/>
<polygon points="561.5,932.7 540.9,918.7 548,910.2 568.4,924.2" fill="#4552b0" stroke="#4552b0" stroke-width="0.6"/>
<polygon points="423.3,867.8 403.2,854.5 412,845.7 431.9,859" fill="#2fa76f" stroke="#2fa76f" stroke-width="0.6"/>
<polygon points="492.4,899.7 472.1,886.1 480,877.4 500.1,891.1" fill="#3966ba" stroke="#3966ba" stroke-width="0.6"/>
<polygon points="235.6,791.4 216.3,778.8 227.2,769.5 246.4,782" fill="#f3e72d" stroke="#f3e72d" stroke-width="0.6"/>
<polygon points="304.9,820.2 285.2,807.4 295.4,798.2 314.8,811.1" fill="#bcd739" stroke="#bcd739" stroke-width="0.6"/>
<polygon points="374.2,850.2 354.2,837.1 363.6,828.1 383.3,841.2" fill="#64be45" stroke="#64be45" stroke-width="0.6"/>
<polygon points="443.5,881.3 423.3,867.8 431.9,859 451.9,872.5" fill="#2b989f" stroke="#2b989f" stroke-width="0.6"/>
<polygon points="512.9,913.5 492.4,899.7 500.1,891.1 520.4,904.8" fill="#4256b2" stroke="#4256b2" stroke-width="0.6"/>
<polygon points="255.1,804 235.6,791.4 246.4,782 265.7,794.6" fill="#e8e32f" stroke="#e8e32f" stroke-width="0.6"/>
<polygon points="324.7,833.2 304.9,820.2 314.8,811.1 334.4,824" fill="#a1ce3e" stroke="#a1ce3e" stroke-width="0.6"/>
<polygon points="394.3,863.5 374.2,850.2 383.3,841.2 403.2,854.5" fill="#38b054" stroke="#38b054" stroke-width="0.6"/>
<polygon points="463.9,894.9 443.5,881.3 451.9,872.5 472.1,886.1" fill="#3379be" stroke="#3379be" stroke-width="0.6"/>
<polygon points="533.6,927.4 512.9,913.5 520.4,904.8 540.9,918.7" fill="#4453b0" stroke="#4453b0" stroke-width="0.6"/>
<polygon points="274.8,816.8 255.1,804 265.7,794.6 285.2,807.4" fill="#cadb34" stroke="#cadb34" stroke-width="0.6"/>
<polygon points="344.6,846.3 324.7,833.2 334.4,824 354.2,837.1" fill="#80c543" stroke="#80c543" stroke-width="0.6"/>
<polygon points="414.5,876.9 394.3,863.5 403.2,854.5 423.3,867.8" fill="#2ba184" stroke="#2ba184" stroke-width="0.6"/>
<polygon points="554.4,941.4 533.6,927.4 540.9,918.7 561.5,932.7" fill="#4552b0" stroke="#4552b0" stroke-width="0.6"/>
<polygon points="484.5,908.6 463.9,894.9 472.1,886.1 492.4,899.7" fill="#3b60b7" stroke="#3b60b7" stroke-width="0.6"/>
<polygon points="224.6,801 205.1,788.4 216.3,778.8 235.6,791.4" fill="#f0e62f" stroke="#f0e62f" stroke-width="0.6"/>
<polygon points="294.6,829.6 274.8,816.8 285.2,807.4 304.9,820.2" fill="#b1d33b" stroke="#b1d33b" stroke-width="0.6"/>
<polygon points="364.8,859.4 344.6,846.3 354.2,837.1 374.2,850.2" fill="#54ba47" stroke="#54ba47" stroke-width="0.6"/>
<polygon points="435,890.4 414.5,876.9 423.3,867.8 443.5,881.3" fill="#2d90ab" stroke="#2d90ab" stroke-width="0.6"/>
<polygon points="505.2,922.4 484.5,908.6 492.4,899.7 512.9,913.5" fill="#4454b0" stroke="#4454b0" stroke-width="0.6"/>
<polygon points="244.3,813.6 224.6,801 235.6,791.4 255.1,804" fill="#dbe031" stroke="#dbe031" stroke-width="0.6"/>
<polygon points="314.6,842.6 294.6,829.6 304.9,820.2 324.7,833.2" fill="#96ca40" stroke="#96ca40" stroke-width="0.6"/>
<polygon points="385.1,872.7 364.8,859.4 374.2,850.2 394.3,863.5" fill="#34ac5f" stroke="#34ac5f" stroke-width="0.6"/>
<polygon points="455.6,904 435,890.4 443.5,881.3 463.9,894.9" fill="#3570bf" stroke="#3570bf" stroke-width="0.6"/>
<polygon points="526.1,936.3 505.2,922.4 512.9,913.5 533.6,927.4" fill="#4453b0" stroke="#4453b0" stroke-width="0.6"/>
<polygon points="264.2,826.4 244.3,813.6 255.1,804 274.8,816.8" fill="#bfd838" stroke="#bfd838" stroke-width="0.6"/>
<polygon points="334.8,855.7 314.6,842.6 324.7,833.2 344.6,846.3" fill="#6ec144" stroke="#6ec144" stroke-width="0.6"/>
<polygon points="405.6,886.1 385.1,872.7 394.3,863.5 414.5,876.9" fill="#2a9c92" stroke="#2a9c92" stroke-width="0.6"/>
<polygon points="476.4,917.7 455.6,904 463.9,894.9 484.5,908.6" fill="#3f59b5" stroke="#3f59b5" stroke-width="0.6"/>
<polygon points="547.2,950.4 526.1,936.3 533.6,927.4 554.4,941.4" fill="#4552b0" stroke="#4552b0" stroke-width="0.6"/>
<polygon points="213.3,810.8 193.6,798.3 205.1,788.4 224.6,801" fill="#e8e32f" stroke="#e8e32f" stroke-width="0.6"/>
<polygon points="284.2,839.3 264.2,826.4 274.8,816.8 294.6,829.6" fill="#a6cf3d" stroke="#a6cf3d" stroke-width="0.6"/>
<polygon points="355.2,868.9 334.8,855.7 344.6,846.3 364.8,859.4" fill="#41b44d" stroke="#41b44d" stroke-width="0.6"/>
<polygon points="426.2,899.6 405.6,886.1 414.5,876.9 435,890.4" fill="#3086b7" stroke="#3086b7" stroke-width="0.6"/>
<polygon points="497.3,931.5 476.4,917.7 484.5,908.6 505.2,922.4" fill="#4454b0" stroke="#4454b0" stroke-width="0.6"/>
<polygon points="233.2,823.5 213.3,810.8 224.6,801 244.3,813.6" fill="#ccdb34" stroke="#ccdb34" stroke-width="0.6"/>
<polygon points="304.4,852.3 284.2,839.3 294.6,829.6 314.6,842.6" fill="#88c742" stroke="#88c742" stroke-width="0.6"/>
<polygon points="375.7,882.2 355.2,868.9 364.8,859.4 385.1,872.7" fill="#2fa771" stroke="#2fa771" stroke-width="0.6"/>
<polygon points="447.1,913.3 426.2,899.6 435,890.4 455.6,904" fill="#3869bb" stroke="#3869bb" stroke-width="0.6"/>
<polygon points="518.5,945.5 497.3,931.5 505.2,922.4 526.1,936.3" fill="#4453b0" stroke="#4453b0" stroke-width="0.6"/>
<polygon points="253.2,836.3 233.2,823.5 244.3,813.6 264.2,826.4" fill="#b4d43b" stroke="#b4d43b" stroke-width="0.6"/>
<polygon points="324.8,865.3 304.4,852.3 314.6,842.6 334.8,855.7" fill="#5dbc46" stroke="#5dbc46" stroke-width="0.6"/>
<polygon points="396.4,895.6 375.7,882.2 385.1,872.7 405.6,886.1" fill="#2b989f" stroke="#2b989f" stroke-width="0.6"/>
<polygon points="468.1,927 447.1,913.3 455.6,904 476.4,917.7" fill="#4157b3" stroke="#4157b3" stroke-width="0.6"/>
<polygon points="539.8,959.5 518.5,945.5 526.1,936.3 547.2,950.4" fill="#4551b0" stroke="#4551b0" stroke-width="0.6"/>
<polygon points="201.8,820.9 181.9,808.3 193.6,798.3 213.3,810.8" fill="#dbe031" stroke="#dbe031" stroke-width="0.6"/>
<polygon points="273.5,849.1 253.2,836.3 264.2,826.4 284.2,839.3" fill="#9acc3f" stroke="#9acc3f" stroke-width="0.6"/>
<polygon points="345.3,878.6 324.8,865.3 334.8,855.7 355.2,868.9" fill="#37af57" stroke="#37af57" stroke-width="0.6"/>
<polygon points="417.3,909.1 396.4,895.6 405.6,886.1 426.2,899.6" fill="#327bbd" stroke="#327bbd" stroke-width="0.6"/>
<polygon points="489.3,940.9 468.1,927 476.4,917.7 497.3,931.5" fill="#4453b0" stroke="#4453b0" stroke-width="0.6"/>
<polygon points="221.8,833.6 201.8,820.9 213.3,810.8 233.2,823.5" fill="#c0d837" stroke="#c0d837" stroke-width="0.6"/>
<polygon points="293.9,862.1 273.5,849.1 284.2,839.3 304.4,852.3" fill="#76c243" stroke="#76c243" stroke-width="0.6"/>
<polygon points="366,891.9 345.3,878.6 355.2,868.9 375.7,882.2" fill="#2aa087" stroke="#2aa087" stroke-width="0.6"/>
<polygon points="438.3,922.8 417.3,909.1 426.2,899.6 447.1,913.3" fill="#3a62b8" stroke="#3a62b8" stroke-width="0.6"/>
<polygon points="510.6,954.8 489.3,940.9 497.3,931.5 518.5,945.5" fill="#4552b0" stroke="#4552b0" stroke-width="0.6"/>
<polygon points="242.1,846.4 221.8,833.6 233.2,823.5 253.2,836.3" fill="#a8d03c" stroke="#a8d03c" stroke-width="0.6"/>
<polygon points="314.5,875.2 293.9,862.1 304.4,852.3 324.8,865.3" fill="#4cb749" stroke="#4cb749" stroke-width="0.6"/>
<polygon points="387,905.3 366,891.9 375.7,882.2 396.4,895.6" fill="#2d90ab" stroke="#2d90ab" stroke-width="0.6"/>
<polygon points="459.6,936.5 438.3,922.8 447.1,913.3 468.1,927" fill="#4355b1" stroke="#4355b1" stroke-width="0.6"/>
<polygon points="532.2,968.9 510.6,954.8 518.5,945.5 539.8,959.5" fill="#4551b0" stroke="#4551b0" stroke-width="0.6"/>
<polygon points="189.9,831.2 169.9,818.7 181.9,808.3 201.8,820.9" fill="#ccdb34" stroke="#ccdb34" stroke-width="0.6"/>
<polygon points="262.5,859.2 242.1,846.4 253.2,836.3 273.5,849.1" fill="#8dc842" stroke="#8dc842" stroke-width="0.6"/>
<polygon points="335.2,888.5 314.5,875.2 324.8,865.3 345.3,878.6" fill="#32ab62" stroke="#32ab62" stroke-width="0.6"/>
<polygon points="408.1,918.9 387,905.3 396.4,895.6 417.3,909.1" fill="#3571bf" stroke="#3571bf" stroke-width="0.6"/>
<polygon points="481,950.4 459.6,936.5 468.1,927 489.3,940.9" fill="#4453b0" stroke="#4453b0" stroke-width="0.6"/>
<polygon points="210.2,843.9 189.9,831.2 201.8,820.9 221.8,833.6" fill="#b4d53a" stroke="#b4d53a" stroke-width="0.6"/>
<polygon points="283.1,872.3 262.5,859.2 273.5,849.1 293.9,862.1" fill="#64be45" stroke="#64be45" stroke-width="0.6"/>
<polygon points="356.2,901.8 335.2,888.5 345.3,878.6 366,891.9" fill="#2a9b95" stroke="#2a9b95" stroke-width="0.6"/>
<polygon points="429.3,932.5 408.1,918.9 417.3,909.1 438.3,922.8" fill="#3e5cb5" stroke="#3e5cb5" stroke-width="0.6"/>
<polygon points="502.6,964.4 481,950.4 489.3,940.9 510.6,954.8" fill="#4552b0" stroke="#4552b0" stroke-width="0.6"/>
<polygon points="230.6,856.7 210.2,843.9 221.8,833.6 242.1,846.4" fill="#9bcc3f" stroke="#9bcc3f" stroke-width="0.6"/>
<polygon points="303.9,885.4 283.1,872.3 293.9,862.1 314.5,875.2" fill="#39b152" stroke="#39b152" stroke-width="0.6"/>
<polygon points="377.3,915.3 356.2,901.8 366,891.9 387,905.3" fill="#3085b8" stroke="#3085b8" stroke-width="0.6"/>
<polygon points="450.8,946.3 429.3,932.5 438.3,922.8 459.6,936.5" fill="#4454b0" stroke="#4454b0" stroke-width="0.6"/>
<polygon points="524.4,978.6 502.6,964.4 510.6,954.8 532.2,968.9" fill="#4651b1" stroke="#4651b1" stroke-width="0.6"/>
<polygon points="177.8,841.8 157.5,829.2 169.9,818.7 189.9,831.2" fill="#c0d838" stroke="#c0d838" stroke-width="0.6"/>
<polygon points="251.2,869.6 230.6,856.7 242.1,846.4 262.5,859.2" fill="#7ac343" stroke="#7ac343" stroke-width="0.6"/>
<polygon points="324.9,898.6 303.9,885.4 314.5,875.2 335.2,888.5" fill="#2da47a" stroke="#2da47a" stroke-width="0.6"/>
<polygon points="398.6,928.9 377.3,915.3 387,905.3 408.1,918.9" fill="#376abc" stroke="#376abc" stroke-width="0.6"/>
<polygon points="472.5,960.3 450.8,946.3 459.6,936.5 481,950.4" fill="#4453b0" stroke="#4453b0" stroke-width="0.6"/>
<polygon points="198.2,854.5 177.8,841.8 189.9,831.2 210.2,843.9" fill="#a8d03c" stroke="#a8d03c" stroke-width="0.6"/>
<polygon points="272,882.6 251.2,869.6 262.5,859.2 283.1,872.3" fill="#52b947" stroke="#52b947" stroke-width="0.6"/>
<polygon points="346,912 324.9,898.6 335.2,888.5 356.2,901.8" fill="#2b97a2" stroke="#2b97a2" stroke-width="0.6"/>
<polygon points="420.1,942.6 398.6,928.9 408.1,918.9 429.3,932.5" fill="#4157b3" stroke="#4157b3" stroke-width="0.6"/>
<polygon points="494.3,974.3 472.5,960.3 481,950.4 502.6,964.4" fill="#4552b0" stroke="#4552b0" stroke-width="0.6"/>
<polygon points="218.9,867.3 198.2,854.5 210.2,843.9 230.6,856.7" fill="#8fc842" stroke="#8fc842" stroke-width="0.6"/>
<polygon points="293,895.8 272,882.6 283.1,872.3 303.9,885.4" fill="#34ad5d" stroke="#34ad5d" stroke-width="0.6"/>
<polygon points="367.4,925.5 346,912 356.2,901.8 377.3,915.3" fill="#337abe" stroke="#337abe" stroke-width="0.6"/>
<polygon points="441.9,956.4 420.1,942.6 429.3,932.5 450.8,946.3" fill="#4454b0" stroke="#4454b0" stroke-width="0.6"/>
<polygon points="516.4,988.5 494.3,974.3 502.6,964.4 524.4,978.6" fill="#4650b1" stroke="#4650b1" stroke-width="0.6"/>
<polygon points="165.3,852.7 144.9,840.1 157.5,829.2 177.8,841.8" fill="#b3d43b" stroke="#b3d43b" stroke-width="0.6"/>
<polygon points="239.7,880.2 218.9,867.3 230.6,856.7 251.2,869.6" fill="#67bf45" stroke="#67bf45" stroke-width="0.6"/>
<polygon points="314.2,909.1 293,895.8 303.9,885.4 324.9,898.6" fill="#2a9e8d" stroke="#2a9e8d" stroke-width="0.6"/>
<polygon points="388.9,939.1 367.4,925.5 377.3,915.3 398.6,928.9" fill="#3a63b8" stroke="#3a63b8" stroke-width="0.6"/>
<polygon points="463.8,970.3 441.9,956.4 450.8,946.3 472.5,960.3" fill="#4552b0" stroke="#4552b0" stroke-width="0.6"/>
<polygon points="186,865.4 165.3,852.7 177.8,841.8 198.2,854.5" fill="#9bcc3f" stroke="#9bcc3f" stroke-width="0.6"/>
<polygon points="260.7,893.3 239.7,880.2 251.2,869.6 272,882.6" fill="#3db34f" stroke="#3db34f" stroke-width="0.6"/>
<polygon points="335.6,922.5 314.2,909.1 324.9,898.6 346,912" fill="#2e8daf" stroke="#2e8daf" stroke-width="0.6"/>
<polygon points="410.7,952.8 388.9,939.1 398.6,928.9 420.1,942.6" fill="#4256b2" stroke="#4256b2" stroke-width="0.6"/>
<polygon points="485.9,984.4 463.8,970.3 472.5,960.3 494.3,974.3" fill="#4551b0" stroke="#4551b0" stroke-width="0.6"/>
<polygon points="206.8,878.2 186,865.4 198.2,854.5 218.9,867.3" fill="#7cc443" stroke="#7cc443" stroke-width="0.6"/>
<polygon points="281.9,906.5 260.7,893.3 272,882.6 293,895.8" fill="#2fa770" stroke="#2fa770" stroke-width="0.6"/>
<polygon points="357.2,936 335.6,922.5 346,912 367.4,925.5" fill="#3570be" stroke="#3570be" stroke-width="0.6"/>
<polygon points="432.7,966.7 410.7,952.8 420.1,942.6 441.9,956.4" fill="#4453b0" stroke="#4453b0" stroke-width="0.6"/>
<polygon points="152.6,863.8 131.9,851.2 144.9,840.1 165.3,852.7" fill="#a7d03c" stroke="#a7d03c" stroke-width="0.6"/>
<polygon points="508.2,998.6 485.9,984.4 494.3,974.3 516.4,988.5" fill="#4750b1" stroke="#4750b1" stroke-width="0.6"/>
<polygon points="227.9,891.1 206.8,878.2 218.9,867.3 239.7,880.2" fill="#55ba47" stroke="#55ba47" stroke-width="0.6"/>
<polygon points="303.3,919.8 281.9,906.5 293,895.8 314.2,909.1" fill="#2b999b" stroke="#2b999b" stroke-width="0.6"/>
<polygon points="379,949.6 357.2,936 367.4,925.5 388.9,939.1" fill="#3e5bb5" stroke="#3e5bb5" stroke-width="0.6"/>
<polygon points="454.8,980.7 432.7,966.7 441.9,956.4 463.8,970.3" fill="#4552b0" stroke="#4552b0" stroke-width="0.6"/>
<polygon points="173.4,876.5 152.6,863.8 165.3,852.7 186,865.4" fill="#8ec842" stroke="#8ec842" stroke-width="0.6"/>
<polygon points="249.1,904.2 227.9,891.1 239.7,880.2 260.7,893.3" fill="#35ae5a" stroke="#35ae5a" stroke-width="0.6"/>
<polygon points="325,933.2 303.3,919.8 314.2,909.1 335.6,922.5" fill="#3181bb" stroke="#3181bb" stroke-width="0.6"/>
<polygon points="401,963.4 379,949.6 388.9,939.1 410.7,952.8" fill="#4454b0" stroke="#4454b0" stroke-width="0.6"/>
<polygon points="477.2,994.8 454.8,980.7 463.8,970.3 485.9,984.4" fill="#4551b0" stroke="#4551b0" stroke-width="0.6"/>
<polygon points="194.5,889.4 173.4,876.5 186,865.4 206.8,878.2" fill="#68bf44" stroke="#68bf44" stroke-width="0.6"/>
<polygon points="270.5,917.4 249.1,904.2 260.7,893.3 281.9,906.5" fill="#2aa088" stroke="#2aa088" stroke-width="0.6"/>
<polygon points="346.8,946.7 325,933.2 335.6,922.5 357.2,936" fill="#3868bb" stroke="#3868bb" stroke-width="0.6"/>
<polygon points="423.2,977.3 401,963.4 410.7,952.8 432.7,966.7" fill="#4453b0" stroke="#4453b0" stroke-width="0.6"/>
<polygon points="499.7,1009.1 477.2,994.8 485.9,984.4 508.2,998.6" fill="#474fb2" stroke="#474fb2" stroke-width="0.6"/>
<polygon points="215.7,902.3 194.5,889.4 206.8,878.2 227.9,891.1" fill="#40b44e" stroke="#40b44e" stroke-width="0.6"/>
<polygon points="292.2,930.7 270.5,917.4 281.9,906.5 303.3,919.8" fill="#2c92a9" stroke="#2c92a9" stroke-width="0.6"/>
<polygon points="368.8,960.4 346.8,946.7 357.2,936 379,949.6" fill="#4157b3" stroke="#4157b3" stroke-width="0.6"/>
<polygon points="445.6,991.3 423.2,977.3 432.7,966.7 454.8,980.7" fill="#4552b0" stroke="#4552b0" stroke-width="0.6"/>
<polygon points="237.2,915.4 215.7,902.3 227.9,891.1 249.1,904.2" fill="#30a86b" stroke="#30a86b" stroke-width="0.6"/>
<polygon points="314,944.2 292.2,930.7 303.3,919.8 325,933.2" fill="#3475bf" stroke="#3475bf" stroke-width="0.6"/>
<polygon points="391.1,974.2 368.8,960.4 379,949.6 401,963.4" fill="#4454b0" stroke="#4454b0" stroke-width="0.6"/>
<polygon points="468.2,1005.5 445.6,991.3 454.8,980.7 477.2,994.8" fill="#4651b1" stroke="#4651b1" stroke-width="0.6"/>
<polygon points="258.8,928.7 237.2,915.4 249.1,904.2 270.5,917.4" fill="#2b9b97" stroke="#2b9b97" stroke-width="0.6"/>
<polygon points="336.1,957.8 314,944.2 325,933.2 346.8,946.7" fill="#3b61b7" stroke="#3b61b7" stroke-width="0.6"/>
<polygon points="413.5,988.2 391.1,974.2 401,963.4 423.2,977.3" fill="#4453b0" stroke="#4453b0" stroke-width="0.6"/>
<polygon points="491.1,1019.8 468.2,1005.5 477.2,994.8 499.7,1009.1" fill="#484fb2" stroke="#484fb2" stroke-width="0.6"/>
<polygon points="280.7,942 258.8,928.7 270.5,917.4 292.2,930.7" fill="#3086b7" stroke="#3086b7" stroke-width="0.6"/>
<polygon points="358.3,971.5 336.1,957.8 346.8,946.7 368.8,960.4" fill="#4355b1" stroke="#4355b1" stroke-width="0.6"/>
<polygon points="436.2,1002.2 413.5,988.2 423.2,977.3 445.6,991.3" fill="#4551b0" stroke="#4551b0" stroke-width="0.6"/>
<polygon points="302.8,955.5 280.7,942 292.2,930.7 314,944.2" fill="#366cbd" stroke="#366cbd" stroke-width="0.6"/>
<polygon points="380.8,985.3 358.3,971.5 368.8,960.4 391.1,974.2" fill="#4453b0" stroke="#4453b0" stroke-width="0.6"/>
<polygon points="459.1,1016.5 436.2,1002.2 445.6,991.3 468.2,1005.5" fill="#4650b1" stroke="#4650b1" stroke-width="0.6"/>
<polygon points="325.1,969.1 302.8,955.5 314,944.2 336.1,957.8" fill="#3f59b4" stroke="#3f59b4" stroke-width="0.6"/>
<polygon points="403.5,999.3 380.8,985.3 391.1,974.2 413.5,988.2" fill="#4552b0" stroke="#4552b0" stroke-width="0.6"/>
<polygon points="482.2,1030.8 459.1,1016.5 468.2,1005.5 491.1,1019.8" fill="#484fb3" stroke="#484fb3" stroke-width="0.6"/>
<polygon points="347.6,982.9 325.1,969.1 336.1,957.8 358.3,971.5" fill="#4454b0" stroke="#4454b0" stroke-width="0.6"/>
<polygon points="426.5,1013.5 403.5,999.3 413.5,988.2 436.2,1002.2" fill="#4551b0" stroke="#4551b0" stroke-width="0.6"/>
<polygon points="370.3,996.8 347.6,982.9 358.3,971.5 380.8,985.3" fill="#4453b0" stroke="#4453b0" stroke-width="0.6"/>
<polygon points="449.6,1027.7 426.5,1013.5 436.2,1002.2 459.1,1016.5" fill="#4750b2" stroke="#4750b2" stroke-width="0.6"/>
<polygon points="393.3,1010.8 370.3,996.8 380.8,985.3 403.5,999.3" fill="#4552b0" stroke="#4552b0" stroke-width="0.6"/>
<polygon points="473,1042.1 449.6,1027.7 459.1,1016.5 482.2,1030.8" fill="#494eb3" stroke="#494eb3" stroke-width="0.6"/>
<polygon points="416.5,1025 393.3,1010.8 403.5,999.3 426.5,1013.5" fill="#4551b0" stroke="#4551b0" stroke-width="0.6"/>
<polygon points="440,1039.3 416.5,1025 426.5,1013.5 449.6,1027.7" fill="#474fb2" stroke="#474fb2" stroke-width="0.6"/>
<polygon points="463.6,1053.8 440,1039.3 449.6,1027.7 473,1042.1" fill="#494eb4" stroke="#494eb4" stroke-width="0.6"/>
<path d="M126 699L296.6 653.7M296.6 653.7L590.2 672.6M126 699L139.7 1049.2M296.6 653.7L300 948.3M590.2 672.6L578.6 990.9M139.7 1049.2L300 948.3M300 948.3L578.6 990.9M139.7 1049.2L462.7 1111.4M462.7 1111.4L578.6 990.9" fill="none" stroke="#a0a0a0" stroke-width="1.2" style="mix-blend-mode:multiply"/>
<g fill="#8a8aa2" style="mix-blend-mode:multiply"><polygon points="347.6,858 354.2,869.2 341,869.2"/><circle cx="304.5" cy="943.9" r="7"/><polygon points="313.7,952.1 320.3,963.3 307.1,963.3"/><circle cx="451.1" cy="1024.1" r="7"/><polygon points="463.4,1004.7 470,1015.9 456.8,1015.9"/><circle cx="493.1" cy="987.9" r="7"/><circle cx="493.1" cy="1000.2" r="7"/><polygon points="509.8,967.1 516.5,978.3 503.2,978.3"/><polygon points="538,916 542.5,923.6 533.5,923.6"/></g>
<path d="M463.6 1053.8L581.7 907.7M463.6 1053.8L131.9 851.2M440 1039.3L561.7 893.8M473 1042.1L144.9 840.1M416.5 1025L541.9 880M482.2 1030.8L157.5 829.2M393.3 1010.8L522.2 866.3M491.1 1019.8L169.9 818.7M370.3 996.8L502.7 852.7M499.7 1009.1L181.9 808.3M347.6 982.9L483.4 839.2M508.2 998.6L193.6 798.3M325.1 969.1L464.1 825.8M516.4 988.5L205.1 788.4M302.8 955.5L445 812.4M524.4 978.6L216.3 778.8M280.7 942L426.1 799.2M532.2 968.9L227.2 769.5M258.8 928.7L407.3 786.1M539.8 959.5L237.9 760.3M237.2 915.4L388.6 773.1M547.2 950.4L248.4 751.3M215.7 902.3L370.1 760.2M554.4 941.4L258.6 742.6M194.5 889.4L351.7 747.3M561.5 932.7L268.6 734M173.4 876.5L333.4 734.6M568.4 924.2L278.3 725.6M152.6 863.8L315.3 721.9M575.1 915.8L287.9 717.4M131.9 851.2L297.3 709.4M581.7 907.7L297.3 709.4" fill="none" stroke="#fff" stroke-width="2.9" opacity="0.42"/>
<path d="M463.6 1053.8L581.7 907.7M463.6 1053.8L131.9 851.2M440 1039.3L561.7 893.8M473 1042.1L144.9 840.1M416.5 1025L541.9 880M482.2 1030.8L157.5 829.2M393.3 1010.8L522.2 866.3M491.1 1019.8L169.9 818.7M370.3 996.8L502.7 852.7M499.7 1009.1L181.9 808.3M347.6 982.9L483.4 839.2M508.2 998.6L193.6 798.3M325.1 969.1L464.1 825.8M516.4 988.5L205.1 788.4M302.8 955.5L445 812.4M524.4 978.6L216.3 778.8M280.7 942L426.1 799.2M532.2 968.9L227.2 769.5M258.8 928.7L407.3 786.1M539.8 959.5L237.9 760.3M237.2 915.4L388.6 773.1M547.2 950.4L248.4 751.3M215.7 902.3L370.1 760.2M554.4 941.4L258.6 742.6M194.5 889.4L351.7 747.3M561.5 932.7L268.6 734M173.4 876.5L333.4 734.6M568.4 924.2L278.3 725.6M152.6 863.8L315.3 721.9M575.1 915.8L287.9 717.4M131.9 851.2L297.3 709.4M581.7 907.7L297.3 709.4" fill="none" stroke="#000" stroke-width="1.25"/>
<g fill="#050505"><polygon points="352.7,701.5 359.3,712.7 346.1,712.7" stroke="#fff" stroke-width="1.2" paint-order="stroke" stroke-linejoin="round"/><polygon points="292.5,743.4 299.1,754.6 285.9,754.6" stroke="#fff" stroke-width="1.2" paint-order="stroke" stroke-linejoin="round"/><polygon points="411.6,791 418.2,802.2 405,802.2" stroke="#fff" stroke-width="1.2" paint-order="stroke" stroke-linejoin="round"/><polygon points="543.5,883.1 550.1,894.3 536.9,894.3" stroke="#fff" stroke-width="1.2" paint-order="stroke" stroke-linejoin="round"/><circle cx="280.6" cy="951.6" r="7"/><circle cx="204.3" cy="977" r="7"/><circle cx="259.8" cy="1022.2" r="7"/></g>
<rect x="594.9" y="672.5" width="60.8" height="18.3" fill="#2b2a73" stroke="#000" stroke-width="2"/><text x="670.70" y="690.95" font-size="27">-5</text><rect x="594.9" y="706.5" width="60.8" height="18.3" fill="#33439c" stroke="#000" stroke-width="2"/><text x="670.70" y="725.00" font-size="27">0</text><rect x="594.9" y="740.6" width="60.8" height="18.3" fill="#33469e" stroke="#000" stroke-width="2"/><text x="670.70" y="759.05" font-size="27">5</text><rect x="594.9" y="774.6" width="60.8" height="18.3" fill="#3ab54a" stroke="#000" stroke-width="2"/><text x="670.70" y="793.10" font-size="27">10</text><rect x="594.9" y="808.7" width="60.8" height="18.3" fill="#c9d82d" stroke="#000" stroke-width="2"/><text x="670.70" y="827.15" font-size="27">15</text><rect x="594.9" y="842.8" width="60.8" height="18.3" fill="#fdc60e" stroke="#000" stroke-width="2"/><text x="670.70" y="861.20" font-size="27">20</text><rect x="594.9" y="876.8" width="60.8" height="18.3" fill="#f26522" stroke="#000" stroke-width="2"/><text x="670.70" y="895.25" font-size="27">25</text>
<text x="83.85" y="711.40" font-size="30">25</text><text x="86.25" y="774.00" font-size="30">20</text><text x="89.30" y="835.10" font-size="30">15</text><text x="91.15" y="893.65" font-size="30">10</text><text x="110.85" y="951.85" font-size="30">5</text><text x="113.00" y="1008.70" font-size="30">0</text><text x="105.00" y="1064.65" font-size="30">-5</text><text x="148.90" y="1090.75" font-size="30">25</text><text x="199.70" y="1100.90" font-size="30">20</text><text x="253.50" y="1110.60" font-size="30">15</text><text x="307.35" y="1121.90" font-size="30">10</text><text x="380.85" y="1133.35" font-size="30">5</text><text x="439.25" y="1143.95" font-size="30">0</text><text x="590.80" y="1003.05" font-size="30">1500</text><text x="556.50" y="1038.40" font-size="30">1000</text><text x="519.35" y="1078.70" font-size="30">500</text><text x="476.05" y="1122.80" font-size="30">0</text>
<path d="M840.6 699.9L1011.2 654.5M1011.2 654.5L1304.8 673.4M840.6 699.9L854.3 1050M1011.2 654.5L1014.6 949.1M1304.8 673.4L1293.2 991.7M854.3 1050L1014.6 949.1M1014.6 949.1L1293.2 991.7M854.3 1050L1177.3 1112.2M1177.3 1112.2L1293.2 991.7M840.6 699.9L846.7 698.2M843.4 773.3L849.5 771.2M846.3 844.9L852.2 842.4M849 914.9L854.9 912M851.7 983.2L857.5 980M854.3 1050L860.1 1046.4M1118.9 1101L1123.4 1096.8M1062.5 1090.1L1067.3 1086M1008 1079.6L1013 1075.7M955.1 1069.4L960.4 1065.6M903.9 1059.6L909.4 1055.9M1221.1 1066.6L1212.8 1065.1M1259.5 1026.8L1251.5 1025.5" fill="none" stroke="#231f20" stroke-width="1.3"/>
<polygon points="1020.6,721 1002.4,708.4 1011.7,693 1029.7,706.3" fill="#f49c2f" stroke="#f49c2f" stroke-width="0.6"/>
<polygon points="1038.9,733.6 1020.6,721 1029.7,706.3 1047.9,719.7" fill="#f6aa2d" stroke="#f6aa2d" stroke-width="0.6"/>
<polygon points="1057.4,746.4 1038.9,733.6 1047.9,719.7 1066.2,733.1" fill="#f9c52b" stroke="#f9c52b" stroke-width="0.6"/>
<polygon points="1011.2,735.9 992.9,724 1002.4,708.4 1020.6,721" fill="#f7ab2d" stroke="#f7ab2d" stroke-width="0.6"/>
<polygon points="1076,759.2 1057.4,746.4 1066.2,733.1 1084.7,746.7" fill="#f7de2c" stroke="#f7de2c" stroke-width="0.6"/>
<polygon points="1029.7,747.9 1011.2,735.9 1020.6,721 1038.9,733.6" fill="#f9c42b" stroke="#f9c42b" stroke-width="0.6"/>
<polygon points="1094.7,772.2 1076,759.2 1084.7,746.7 1103.3,760.3" fill="#f3e82d" stroke="#f3e82d" stroke-width="0.6"/>
<polygon points="1048.3,759.9 1029.7,747.9 1038.9,733.6 1057.4,746.4" fill="#f8dd2c" stroke="#f8dd2c" stroke-width="0.6"/>
<polygon points="1113.6,785.2 1094.7,772.2 1103.3,760.3 1122,774.1" fill="#e6e330" stroke="#e6e330" stroke-width="0.6"/>
<polygon points="1001.7,751.2 983.2,740 992.9,724 1011.2,735.9" fill="#f9c72b" stroke="#f9c72b" stroke-width="0.6"/>
<polygon points="1067.1,772.1 1048.3,759.9 1057.4,746.4 1076,759.2" fill="#f4e72d" stroke="#f4e72d" stroke-width="0.6"/>
<polygon points="1132.6,798.4 1113.6,785.2 1122,774.1 1140.8,787.9" fill="#c4d936" stroke="#c4d936" stroke-width="0.6"/>
<polygon points="1020.3,762.4 1001.7,751.2 1011.2,735.9 1029.7,747.9" fill="#f8dd2c" stroke="#f8dd2c" stroke-width="0.6"/>
<polygon points="1086,784.3 1067.1,772.1 1076,759.2 1094.7,772.2" fill="#eee52f" stroke="#eee52f" stroke-width="0.6"/>
<polygon points="1151.8,811.6 1132.6,798.4 1140.8,787.9 1159.8,801.9" fill="#a7d03c" stroke="#a7d03c" stroke-width="0.6"/>
<polygon points="1039.1,773.8 1020.3,762.4 1029.7,747.9 1048.3,759.9" fill="#f4e72d" stroke="#f4e72d" stroke-width="0.6"/>
<polygon points="1105,796.7 1086,784.3 1094.7,772.2 1113.6,785.2" fill="#cfdc33" stroke="#cfdc33" stroke-width="0.6"/>
<polygon points="1171.1,825 1151.8,811.6 1159.8,801.9 1178.9,815.9" fill="#82c543" stroke="#82c543" stroke-width="0.6"/>
<polygon points="992,766.7 973.4,756.3 983.2,740 1001.7,751.2" fill="#f7df2c" stroke="#f7df2c" stroke-width="0.6"/>
<polygon points="1058,785.2 1039.1,773.8 1048.3,759.9 1067.1,772.1" fill="#f0e52f" stroke="#f0e52f" stroke-width="0.6"/>
<polygon points="1124.2,809.1 1105,796.7 1113.6,785.2 1132.6,798.4" fill="#b4d43b" stroke="#b4d43b" stroke-width="0.6"/>
<polygon points="1190.5,838.4 1171.1,825 1178.9,815.9 1198.2,830" fill="#50b948" stroke="#50b948" stroke-width="0.6"/>
<polygon points="1010.7,777.2 992,766.7 1001.7,751.2 1020.3,762.4" fill="#f4e82d" stroke="#f4e82d" stroke-width="0.6"/>
<polygon points="1077.1,796.7 1058,785.2 1067.1,772.1 1086,784.3" fill="#d6de32" stroke="#d6de32" stroke-width="0.6"/>
<polygon points="1143.6,821.6 1124.2,809.1 1132.6,798.4 1151.8,811.6" fill="#97cb40" stroke="#97cb40" stroke-width="0.6"/>
<polygon points="1210.1,852 1190.5,838.4 1198.2,830 1217.5,844.3" fill="#31a969" stroke="#31a969" stroke-width="0.6"/>
<polygon points="1029.6,787.9 1010.7,777.2 1020.3,762.4 1039.1,773.8" fill="#efe52f" stroke="#efe52f" stroke-width="0.6"/>
<polygon points="1096.3,808.3 1077.1,796.7 1086,784.3 1105,796.7" fill="#bcd739" stroke="#bcd739" stroke-width="0.6"/>
<polygon points="982.1,782.6 963.4,772.9 973.4,756.3 992,766.7" fill="#f2e72e" stroke="#f2e72e" stroke-width="0.6"/>
<polygon points="1229.9,865.6 1210.1,852 1217.5,844.3 1237.1,858.6" fill="#2b989f" stroke="#2b989f" stroke-width="0.6"/>
<polygon points="1163.1,834.3 1143.6,821.6 1151.8,811.6 1171.1,825" fill="#6dc044" stroke="#6dc044" stroke-width="0.6"/>
<polygon points="1048.7,798.6 1029.6,787.9 1039.1,773.8 1058,785.2" fill="#d8df31" stroke="#d8df31" stroke-width="0.6"/>
<polygon points="1115.7,820 1096.3,808.3 1105,796.7 1124.2,809.1" fill="#a2ce3d" stroke="#a2ce3d" stroke-width="0.6"/>
<polygon points="1249.8,879.4 1229.9,865.6 1237.1,858.6 1256.7,873.1" fill="#3475bf" stroke="#3475bf" stroke-width="0.6"/>
<polygon points="1001,792.4 982.1,782.6 992,766.7 1010.7,777.2" fill="#ebe42f" stroke="#ebe42f" stroke-width="0.6"/>
<polygon points="1182.7,847 1163.1,834.3 1171.1,825 1190.5,838.4" fill="#3bb24f" stroke="#3bb24f" stroke-width="0.6"/>
<polygon points="1067.9,809.4 1048.7,798.6 1058,785.2 1077.1,796.7" fill="#bfd838" stroke="#bfd838" stroke-width="0.6"/>
<polygon points="1135.2,831.8 1115.7,820 1124.2,809.1 1143.6,821.6" fill="#82c543" stroke="#82c543" stroke-width="0.6"/>
<polygon points="1269.8,893.2 1249.8,879.4 1256.7,873.1 1276.5,887.6" fill="#3e5bb5" stroke="#3e5bb5" stroke-width="0.6"/>
<polygon points="1202.6,859.8 1182.7,847 1190.5,838.4 1210.1,852" fill="#2da37c" stroke="#2da37c" stroke-width="0.6"/>
<polygon points="1020,802.3 1001,792.4 1010.7,777.2 1029.6,787.9" fill="#d4de32" stroke="#d4de32" stroke-width="0.6"/>
<polygon points="972,798.8 953.1,789.8 963.4,772.9 982.1,782.6" fill="#e1e130" stroke="#e1e130" stroke-width="0.6"/>
<polygon points="1087.3,820.2 1067.9,809.4 1077.1,796.7 1096.3,808.3" fill="#a8d03c" stroke="#a8d03c" stroke-width="0.6"/>
<polygon points="1290,907.2 1269.8,893.2 1276.5,887.6 1296.5,902.3" fill="#4454b0" stroke="#4454b0" stroke-width="0.6"/>
<polygon points="1154.9,843.8 1135.2,831.8 1143.6,821.6 1163.1,834.3" fill="#58bb46" stroke="#58bb46" stroke-width="0.6"/>
<polygon points="1222.5,872.8 1202.6,859.8 1210.1,852 1229.9,865.6" fill="#2c93a8" stroke="#2c93a8" stroke-width="0.6"/>
<polygon points="1039.2,812.2 1020,802.3 1029.6,787.9 1048.7,798.6" fill="#bed838" stroke="#bed838" stroke-width="0.6"/>
<polygon points="991,807.8 972,798.8 982.1,782.6 1001,792.4" fill="#cadb34" stroke="#cadb34" stroke-width="0.6"/>
<polygon points="1106.9,831.2 1087.3,820.2 1096.3,808.3 1115.7,820" fill="#8fc842" stroke="#8fc842" stroke-width="0.6"/>
<polygon points="1174.8,855.8 1154.9,843.8 1163.1,834.3 1182.7,847" fill="#35ae5b" stroke="#35ae5b" stroke-width="0.6"/>
<polygon points="1242.7,885.8 1222.5,872.8 1229.9,865.6 1249.8,879.4" fill="#3571bf" stroke="#3571bf" stroke-width="0.6"/>
<polygon points="1058.6,822.3 1039.2,812.2 1048.7,798.6 1067.9,809.4" fill="#a9d03c" stroke="#a9d03c" stroke-width="0.6"/>
<polygon points="1010.2,817 991,807.8 1001,792.4 1020,802.3" fill="#b8d63a" stroke="#b8d63a" stroke-width="0.6"/>
<polygon points="1126.6,842.3 1106.9,831.2 1115.7,820 1135.2,831.8" fill="#69bf44" stroke="#69bf44" stroke-width="0.6"/>
<polygon points="1194.8,867.9 1174.8,855.8 1182.7,847 1202.6,859.8" fill="#2a9e8c" stroke="#2a9e8c" stroke-width="0.6"/>
<polygon points="1263,898.9 1242.7,885.8 1249.8,879.4 1269.8,893.2" fill="#3f5ab5" stroke="#3f5ab5" stroke-width="0.6"/>
<polygon points="961.6,815.3 942.7,807.1 953.1,789.8 972,798.8" fill="#bed838" stroke="#bed838" stroke-width="0.6"/>
<polygon points="1078.2,832.4 1058.6,822.3 1067.9,809.4 1087.3,820.2" fill="#93c941" stroke="#93c941" stroke-width="0.6"/>
<polygon points="1146.5,853.5 1126.6,842.3 1135.2,831.8 1154.9,843.8" fill="#40b44e" stroke="#40b44e" stroke-width="0.6"/>
<polygon points="1029.5,826.2 1010.2,817 1020,802.3 1039.2,812.2" fill="#a6cf3d" stroke="#a6cf3d" stroke-width="0.6"/>
<polygon points="1283.4,912.2 1263,898.9 1269.8,893.2 1290,907.2" fill="#4454b0" stroke="#4454b0" stroke-width="0.6"/>
<polygon points="1215,880.1 1194.8,867.9 1202.6,859.8 1222.5,872.8" fill="#2e8cb0" stroke="#2e8cb0" stroke-width="0.6"/>
<polygon points="980.8,823.6 961.6,815.3 972,798.8 991,807.8" fill="#aed23b" stroke="#aed23b" stroke-width="0.6"/>
<polygon points="1097.9,842.7 1078.2,832.4 1087.3,820.2 1106.9,831.2" fill="#72c144" stroke="#72c144" stroke-width="0.6"/>
<polygon points="1166.6,864.7 1146.5,853.5 1154.9,843.8 1174.8,855.8" fill="#30a86c" stroke="#30a86c" stroke-width="0.6"/>
<polygon points="1049.1,835.5 1029.5,826.2 1039.2,812.2 1058.6,822.3" fill="#92c941" stroke="#92c941" stroke-width="0.6"/>
<polygon points="1235.4,892.4 1215,880.1 1222.5,872.8 1242.7,885.8" fill="#366ebe" stroke="#366ebe" stroke-width="0.6"/>
<polygon points="1000.1,832 980.8,823.6 991,807.8 1010.2,817" fill="#9dcd3f" stroke="#9dcd3f" stroke-width="0.6"/>
<polygon points="951.1,832.2 932,824.7 942.7,807.1 961.6,815.3" fill="#9fcd3e" stroke="#9fcd3e" stroke-width="0.6"/>
<polygon points="1117.9,853 1097.9,842.7 1106.9,831.2 1126.6,842.3" fill="#50b848" stroke="#50b848" stroke-width="0.6"/>
<polygon points="1186.9,876.1 1166.6,864.7 1174.8,855.8 1194.8,867.9" fill="#2b9a98" stroke="#2b9a98" stroke-width="0.6"/>
<polygon points="1255.9,904.8 1235.4,892.4 1242.7,885.8 1263,898.9" fill="#4059b4" stroke="#4059b4" stroke-width="0.6"/>
<polygon points="1068.8,844.9 1049.1,835.5 1058.6,822.3 1078.2,832.4" fill="#74c244" stroke="#74c244" stroke-width="0.6"/>
<polygon points="1019.7,840.5 1000.1,832 1010.2,817 1029.5,826.2" fill="#8ac742" stroke="#8ac742" stroke-width="0.6"/>
<polygon points="1138,863.4 1117.9,853 1126.6,842.3 1146.5,853.5" fill="#35ae5b" stroke="#35ae5b" stroke-width="0.6"/>
<polygon points="970.4,839.7 951.1,832.2 961.6,815.3 980.8,823.6" fill="#90c842" stroke="#90c842" stroke-width="0.6"/>
<polygon points="1207.3,887.6 1186.9,876.1 1194.8,867.9 1215,880.1" fill="#3085b9" stroke="#3085b9" stroke-width="0.6"/>
<polygon points="1276.6,917.3 1255.9,904.8 1263,898.9 1283.4,912.2" fill="#4454b0" stroke="#4454b0" stroke-width="0.6"/>
<polygon points="1088.8,854.4 1068.8,844.9 1078.2,832.4 1097.9,842.7" fill="#56ba47" stroke="#56ba47" stroke-width="0.6"/>
<polygon points="1039.4,849 1019.7,840.5 1029.5,826.2 1049.1,835.5" fill="#6ec144" stroke="#6ec144" stroke-width="0.6"/>
<polygon points="1158.2,873.9 1138,863.4 1146.5,853.5 1166.6,864.7" fill="#2ba185" stroke="#2ba185" stroke-width="0.6"/>
<polygon points="989.9,847.4 970.4,839.7 980.8,823.6 1000.1,832" fill="#79c343" stroke="#79c343" stroke-width="0.6"/>
<polygon points="1227.9,899.1 1207.3,887.6 1215,880.1 1235.4,892.4" fill="#376bbc" stroke="#376bbc" stroke-width="0.6"/>
<polygon points="940.3,849.4 921.1,842.8 932,824.7 951.1,832.2" fill="#73c244" stroke="#73c244" stroke-width="0.6"/>
<polygon points="1108.9,863.9 1088.8,854.4 1097.9,842.7 1117.9,853" fill="#38b055" stroke="#38b055" stroke-width="0.6"/>
<polygon points="1178.7,884.5 1158.2,873.9 1166.6,864.7 1186.9,876.1" fill="#2b96a4" stroke="#2b96a4" stroke-width="0.6"/>
<polygon points="1059.3,857.6 1039.4,849 1049.1,835.5 1068.8,844.9" fill="#54ba47" stroke="#54ba47" stroke-width="0.6"/>
<polygon points="1248.7,910.8 1227.9,899.1 1235.4,892.4 1255.9,904.8" fill="#4058b4" stroke="#4058b4" stroke-width="0.6"/>
<polygon points="1009.5,855 989.9,847.4 1000.1,832 1019.7,840.5" fill="#61bd45" stroke="#61bd45" stroke-width="0.6"/>
<polygon points="959.7,856.2 940.3,849.4 951.1,832.2 970.4,839.7" fill="#60bd45" stroke="#60bd45" stroke-width="0.6"/>
<polygon points="1129.2,873.6 1108.9,863.9 1117.9,853 1138,863.4" fill="#2fa672" stroke="#2fa672" stroke-width="0.6"/>
<polygon points="1199.4,895.3 1178.7,884.5 1186.9,876.1 1207.3,887.6" fill="#327dbd" stroke="#327dbd" stroke-width="0.6"/>
<polygon points="1079.4,866.3 1059.3,857.6 1068.8,844.9 1088.8,854.4" fill="#38b153" stroke="#38b153" stroke-width="0.6"/>
<polygon points="1269.7,922.6 1248.7,910.8 1255.9,904.8 1276.6,917.3" fill="#4454b0" stroke="#4454b0" stroke-width="0.6"/>
<polygon points="1029.4,862.8 1009.5,855 1019.7,840.5 1039.4,849" fill="#49b64a" stroke="#49b64a" stroke-width="0.6"/>
<polygon points="979.4,863.1 959.7,856.2 970.4,839.7 989.9,847.4" fill="#4cb749" stroke="#4cb749" stroke-width="0.6"/>
<polygon points="1149.7,883.3 1129.2,873.6 1138,863.4 1158.2,873.9" fill="#2a9b95" stroke="#2a9b95" stroke-width="0.6"/>
<polygon points="929.3,867.1 910,861.1 921.1,842.8 940.3,849.4" fill="#3db34f" stroke="#3db34f" stroke-width="0.6"/>
<polygon points="1220.2,906.1 1199.4,895.3 1207.3,887.6 1227.9,899.1" fill="#3868bb" stroke="#3868bb" stroke-width="0.6"/>
<polygon points="1099.7,875.1 1079.4,866.3 1088.8,854.4 1108.9,863.9" fill="#30a96a" stroke="#30a96a" stroke-width="0.6"/>
<polygon points="1049.5,870.7 1029.4,862.8 1039.4,849 1059.3,857.6" fill="#37af57" stroke="#37af57" stroke-width="0.6"/>
<polygon points="1170.4,893.2 1149.7,883.3 1158.2,873.9 1178.7,884.5" fill="#2e8daf" stroke="#2e8daf" stroke-width="0.6"/>
<polygon points="999.2,870 979.4,863.1 989.9,847.4 1009.5,855" fill="#39b153" stroke="#39b153" stroke-width="0.6"/>
<polygon points="948.9,873 929.3,867.1 940.3,849.4 959.7,856.2" fill="#36ae59" stroke="#36ae59" stroke-width="0.6"/>
<polygon points="1241.3,917 1220.2,906.1 1227.9,899.1 1248.7,910.8" fill="#4058b4" stroke="#4058b4" stroke-width="0.6"/>
<polygon points="1120.2,884 1099.7,875.1 1108.9,863.9 1129.2,873.6" fill="#2a9e8d" stroke="#2a9e8d" stroke-width="0.6"/>
<polygon points="1069.8,878.6 1049.5,870.7 1059.3,857.6 1079.4,866.3" fill="#30a86d" stroke="#30a86d" stroke-width="0.6"/>
<polygon points="1191.3,903.1 1170.4,893.2 1178.7,884.5 1199.4,895.3" fill="#3475bf" stroke="#3475bf" stroke-width="0.6"/>
<polygon points="1019.2,876.9 999.2,870 1009.5,855 1029.4,862.8" fill="#33ac60" stroke="#33ac60" stroke-width="0.6"/>
<polygon points="918.1,885 898.7,879.9 910,861.1 929.3,867.1" fill="#2ba283" stroke="#2ba283" stroke-width="0.6"/>
<polygon points="1262.5,928 1241.3,917 1248.7,910.8 1269.7,922.6" fill="#4454b0" stroke="#4454b0" stroke-width="0.6"/>
<polygon points="968.6,879.1 948.9,873 959.7,856.2 979.4,863.1" fill="#31aa66" stroke="#31aa66" stroke-width="0.6"/>
<polygon points="1140.9,893 1120.2,884 1129.2,873.6 1149.7,883.3" fill="#2b96a4" stroke="#2b96a4" stroke-width="0.6"/>
<polygon points="1090.3,886.6 1069.8,878.6 1079.4,866.3 1099.7,875.1" fill="#2a9f8b" stroke="#2a9f8b" stroke-width="0.6"/>
<polygon points="1212.4,913.2 1191.3,903.1 1199.4,895.3 1220.2,906.1" fill="#3965b9" stroke="#3965b9" stroke-width="0.6"/>
<polygon points="1039.5,884 1019.2,876.9 1029.4,862.8 1049.5,870.7" fill="#2da47a" stroke="#2da47a" stroke-width="0.6"/>
<polygon points="988.6,885.2 968.6,879.1 979.4,863.1 999.2,870" fill="#2da37c" stroke="#2da37c" stroke-width="0.6"/>
<polygon points="937.8,890.2 918.1,885 929.3,867.1 948.9,873" fill="#2a9e8f" stroke="#2a9e8f" stroke-width="0.6"/>
<polygon points="1161.8,902 1140.9,893 1149.7,883.3 1170.4,893.2" fill="#3183bb" stroke="#3183bb" stroke-width="0.6"/>
<polygon points="1233.7,923.3 1212.4,913.2 1220.2,906.1 1241.3,917" fill="#4157b3" stroke="#4157b3" stroke-width="0.6"/>
<polygon points="1111,894.7 1090.3,886.6 1099.7,875.1 1120.2,884" fill="#2b989f" stroke="#2b989f" stroke-width="0.6"/>
<polygon points="1060,891.1 1039.5,884 1049.5,870.7 1069.8,878.6" fill="#2a9d90" stroke="#2a9d90" stroke-width="0.6"/>
<polygon points="906.6,903.4 887.1,899.1 898.7,879.9 918.1,885" fill="#2e8cb1" stroke="#2e8cb1" stroke-width="0.6"/>
<polygon points="1008.8,891.4 988.6,885.2 999.2,870 1019.2,876.9" fill="#2a9e8e" stroke="#2a9e8e" stroke-width="0.6"/>
<polygon points="957.7,895.5 937.8,890.2 948.9,873 968.6,879.1" fill="#2b9a99" stroke="#2b9a99" stroke-width="0.6"/>
<polygon points="1183,911.2 1161.8,902 1170.4,893.2 1191.3,903.1" fill="#356fbe" stroke="#356fbe" stroke-width="0.6"/>
<polygon points="1255.2,933.5 1233.7,923.3 1241.3,917 1262.5,928" fill="#4454b0" stroke="#4454b0" stroke-width="0.6"/>
<polygon points="1131.9,902.9 1111,894.7 1120.2,884 1140.9,893" fill="#2f8ab3" stroke="#2f8ab3" stroke-width="0.6"/>
<polygon points="1080.6,898.3 1060,891.1 1069.8,878.6 1090.3,886.6" fill="#2b97a1" stroke="#2b97a1" stroke-width="0.6"/>
<polygon points="1204.3,920.4 1183,911.2 1191.3,903.1 1212.4,913.2" fill="#3a61b8" stroke="#3a61b8" stroke-width="0.6"/>
<polygon points="1029.2,897.7 1008.8,891.4 1019.2,876.9 1039.5,884" fill="#2b999b" stroke="#2b999b" stroke-width="0.6"/>
<polygon points="926.4,907.8 906.6,903.4 918.1,885 937.8,890.2" fill="#3086b8" stroke="#3086b8" stroke-width="0.6"/>
<polygon points="977.8,900.8 957.7,895.5 968.6,879.1 988.6,885.2" fill="#2b96a3" stroke="#2b96a3" stroke-width="0.6"/>
<polygon points="1153.1,911.1 1131.9,902.9 1140.9,893 1161.8,902" fill="#3378be" stroke="#3378be" stroke-width="0.6"/>
<polygon points="1101.6,905.6 1080.6,898.3 1090.3,886.6 1111,894.7" fill="#2e8bb1" stroke="#2e8bb1" stroke-width="0.6"/>
<polygon points="1225.9,929.8 1204.3,920.4 1212.4,913.2 1233.7,923.3" fill="#4157b3" stroke="#4157b3" stroke-width="0.6"/>
<polygon points="894.9,922.2 875.2,918.6 887.1,899.1 906.6,903.4" fill="#3869bb" stroke="#3869bb" stroke-width="0.6"/>
<polygon points="1049.9,904 1029.2,897.7 1039.5,884 1060,891.1" fill="#2c92a9" stroke="#2c92a9" stroke-width="0.6"/>
<polygon points="946.5,912.3 926.4,907.8 937.8,890.2 957.7,895.5" fill="#3280bc" stroke="#3280bc" stroke-width="0.6"/>
<polygon points="998.2,906.2 977.8,900.8 988.6,885.2 1008.8,891.4" fill="#2d8fad" stroke="#2d8fad" stroke-width="0.6"/>
<polygon points="1174.4,919.5 1153.1,911.1 1161.8,902 1183,911.2" fill="#376abc" stroke="#376abc" stroke-width="0.6"/>
<polygon points="1122.7,913 1101.6,905.6 1111,894.7 1131.9,902.9" fill="#327cbd" stroke="#327cbd" stroke-width="0.6"/>
<polygon points="1247.7,939.2 1225.9,929.8 1233.7,923.3 1255.2,933.5" fill="#4454b0" stroke="#4454b0" stroke-width="0.6"/>
<polygon points="1070.8,910.4 1049.9,904 1060,891.1 1080.6,898.3" fill="#3087b6" stroke="#3087b6" stroke-width="0.6"/>
<polygon points="914.8,925.8 894.9,922.2 906.6,903.4 926.4,907.8" fill="#3867ba" stroke="#3867ba" stroke-width="0.6"/>
<polygon points="1018.8,911.6 998.2,906.2 1008.8,891.4 1029.2,897.7" fill="#3086b7" stroke="#3086b7" stroke-width="0.6"/>
<polygon points="966.7,916.8 946.5,912.3 957.7,895.5 977.8,900.8" fill="#3379be" stroke="#3379be" stroke-width="0.6"/>
<polygon points="1196,927.9 1174.4,919.5 1183,911.2 1204.3,920.4" fill="#3c5eb7" stroke="#3c5eb7" stroke-width="0.6"/>
<polygon points="1144.1,920.4 1122.7,913 1131.9,902.9 1153.1,911.1" fill="#356fbe" stroke="#356fbe" stroke-width="0.6"/>
<polygon points="882.9,941.4 863.1,938.6 875.2,918.6 894.9,922.2" fill="#4256b2" stroke="#4256b2" stroke-width="0.6"/>
<polygon points="1091.9,916.8 1070.8,910.4 1080.6,898.3 1101.6,905.6" fill="#327bbd" stroke="#327bbd" stroke-width="0.6"/>
<polygon points="935,929.4 914.8,925.8 926.4,907.8 946.5,912.3" fill="#3965b9" stroke="#3965b9" stroke-width="0.6"/>
<polygon points="1039.6,917.1 1018.8,911.6 1029.2,897.7 1049.9,904" fill="#327dbd" stroke="#327dbd" stroke-width="0.6"/>
<polygon points="987.2,921.3 966.7,916.8 977.8,900.8 998.2,906.2" fill="#3473c0" stroke="#3473c0" stroke-width="0.6"/>
<polygon points="1217.9,936.5 1196,927.9 1204.3,920.4 1225.9,929.8" fill="#4157b3" stroke="#4157b3" stroke-width="0.6"/>
<polygon points="1165.7,928 1144.1,920.4 1153.1,911.1 1174.4,919.5" fill="#3965b9" stroke="#3965b9" stroke-width="0.6"/>
<polygon points="1113.3,923.4 1091.9,916.8 1101.6,905.6 1122.7,913" fill="#3570bf" stroke="#3570bf" stroke-width="0.6"/>
<polygon points="903,944.2 882.9,941.4 894.9,922.2 914.8,925.8" fill="#4256b2" stroke="#4256b2" stroke-width="0.6"/>
<polygon points="1060.7,922.7 1039.6,917.1 1049.9,904 1070.8,910.4" fill="#3473c0" stroke="#3473c0" stroke-width="0.6"/>
<polygon points="1239.9,945.1 1217.9,936.5 1225.9,929.8 1247.7,939.2" fill="#4454b0" stroke="#4454b0" stroke-width="0.6"/>
<polygon points="955.4,933.1 935,929.4 946.5,912.3 966.7,916.8" fill="#3a62b8" stroke="#3a62b8" stroke-width="0.6"/>
<polygon points="1008,925.9 987.2,921.3 998.2,906.2 1018.8,911.6" fill="#366fbe" stroke="#366fbe" stroke-width="0.6"/>
<polygon points="1187.5,935.6 1165.7,928 1174.4,919.5 1196,927.9" fill="#3e5bb5" stroke="#3e5bb5" stroke-width="0.6"/>
<polygon points="870.7,961 850.8,959.1 863.1,938.6 882.9,941.4" fill="#4453b0" stroke="#4453b0" stroke-width="0.6"/>
<polygon points="1134.9,930 1113.3,923.4 1122.7,913 1144.1,920.4" fill="#3868bb" stroke="#3868bb" stroke-width="0.6"/>
<polygon points="923.3,947 903,944.2 914.8,925.8 935,929.4" fill="#4256b2" stroke="#4256b2" stroke-width="0.6"/>
<polygon points="1082,928.3 1060.7,922.7 1070.8,910.4 1091.9,916.8" fill="#366dbd" stroke="#366dbd" stroke-width="0.6"/>
<polygon points="976.1,936.8 955.4,933.1 966.7,916.8 987.2,921.3" fill="#3b60b7" stroke="#3b60b7" stroke-width="0.6"/>
<polygon points="1029,930.6 1008,925.9 1018.8,911.6 1039.6,917.1" fill="#376bbc" stroke="#376bbc" stroke-width="0.6"/>
<polygon points="1209.6,943.3 1187.5,935.6 1196,927.9 1217.9,936.5" fill="#4256b2" stroke="#4256b2" stroke-width="0.6"/>
<polygon points="1156.7,936.7 1134.9,930 1144.1,920.4 1165.7,928" fill="#3b60b7" stroke="#3b60b7" stroke-width="0.6"/>
<polygon points="890.8,963 870.7,961 882.9,941.4 903,944.2" fill="#4453b0" stroke="#4453b0" stroke-width="0.6"/>
<polygon points="1103.6,934 1082,928.3 1091.9,916.8 1113.3,923.4" fill="#3867ba" stroke="#3867ba" stroke-width="0.6"/>
<polygon points="943.8,949.8 923.3,947 935,929.4 955.4,933.1" fill="#4256b2" stroke="#4256b2" stroke-width="0.6"/>
<polygon points="1050.3,935.3 1029,930.6 1039.6,917.1 1060.7,922.7" fill="#3866ba" stroke="#3866ba" stroke-width="0.6"/>
<polygon points="997,940.6 976.1,936.8 987.2,921.3 1008,925.9" fill="#3c5eb6" stroke="#3c5eb6" stroke-width="0.6"/>
<polygon points="1232,951.1 1209.6,943.3 1217.9,936.5 1239.9,945.1" fill="#4454b0" stroke="#4454b0" stroke-width="0.6"/>
<polygon points="1178.8,943.5 1156.7,936.7 1165.7,928 1187.5,935.6" fill="#4058b4" stroke="#4058b4" stroke-width="0.6"/>
<polygon points="911.2,965 890.8,963 903,944.2 923.3,947" fill="#4453b0" stroke="#4453b0" stroke-width="0.6"/>
<polygon points="1125.4,939.8 1103.6,934 1113.3,923.4 1134.9,930" fill="#3b61b8" stroke="#3b61b8" stroke-width="0.6"/>
<polygon points="964.6,952.7 943.8,949.8 955.4,933.1 976.1,936.8" fill="#4256b2" stroke="#4256b2" stroke-width="0.6"/>
<polygon points="1071.8,940.1 1050.3,935.3 1060.7,922.7 1082,928.3" fill="#3a62b8" stroke="#3a62b8" stroke-width="0.6"/>
<polygon points="1018.2,944.4 997,940.6 1008,925.9 1029,930.6" fill="#3e5cb6" stroke="#3e5cb6" stroke-width="0.6"/>
<polygon points="1201.2,950.3 1178.8,943.5 1187.5,935.6 1209.6,943.3" fill="#4256b2" stroke="#4256b2" stroke-width="0.6"/>
<polygon points="1147.5,945.7 1125.4,939.8 1134.9,930 1156.7,936.7" fill="#3e5bb5" stroke="#3e5bb5" stroke-width="0.6"/>
<polygon points="931.9,967 911.2,965 923.3,947 943.8,949.8" fill="#4453b0" stroke="#4453b0" stroke-width="0.6"/>
<polygon points="1093.6,945 1071.8,940.1 1082,928.3 1103.6,934" fill="#3c5eb7" stroke="#3c5eb7" stroke-width="0.6"/>
<polygon points="985.7,955.6 964.6,952.7 976.1,936.8 997,940.6" fill="#4256b2" stroke="#4256b2" stroke-width="0.6"/>
<polygon points="1039.7,948.3 1018.2,944.4 1029,930.6 1050.3,935.3" fill="#3f5ab5" stroke="#3f5ab5" stroke-width="0.6"/>
<polygon points="1223.8,957.3 1201.2,950.3 1209.6,943.3 1232,951.1" fill="#4454b0" stroke="#4454b0" stroke-width="0.6"/>
<polygon points="1169.9,951.6 1147.5,945.7 1156.7,936.7 1178.8,943.5" fill="#4157b3" stroke="#4157b3" stroke-width="0.6"/>
<polygon points="952.9,969 931.9,967 943.8,949.8 964.6,952.7" fill="#4453b0" stroke="#4453b0" stroke-width="0.6"/>
<polygon points="1115.7,949.9 1093.6,945 1103.6,934 1125.4,939.8" fill="#3f5ab5" stroke="#3f5ab5" stroke-width="0.6"/>
<polygon points="1007.1,958.6 985.7,955.6 997,940.6 1018.2,944.4" fill="#4355b1" stroke="#4355b1" stroke-width="0.6"/>
<polygon points="1061.4,952.2 1039.7,948.3 1050.3,935.3 1071.8,940.1" fill="#4058b4" stroke="#4058b4" stroke-width="0.6"/>
<polygon points="1192.5,957.5 1169.9,951.6 1178.8,943.5 1201.2,950.3" fill="#4256b2" stroke="#4256b2" stroke-width="0.6"/>
<polygon points="1138,954.9 1115.7,949.9 1125.4,939.8 1147.5,945.7" fill="#4058b4" stroke="#4058b4" stroke-width="0.6"/>
<polygon points="974.2,971 952.9,969 964.6,952.7 985.7,955.6" fill="#4453b0" stroke="#4453b0" stroke-width="0.6"/>
<polygon points="1083.4,956.2 1061.4,952.2 1071.8,940.1 1093.6,945" fill="#4157b3" stroke="#4157b3" stroke-width="0.6"/>
<polygon points="1028.8,961.6 1007.1,958.6 1018.2,944.4 1039.7,948.3" fill="#4355b1" stroke="#4355b1" stroke-width="0.6"/>
<polygon points="1215.4,963.6 1192.5,957.5 1201.2,950.3 1223.8,957.3" fill="#4454b0" stroke="#4454b0" stroke-width="0.6"/>
<polygon points="1160.7,959.9 1138,954.9 1147.5,945.7 1169.9,951.6" fill="#4157b3" stroke="#4157b3" stroke-width="0.6"/>
<polygon points="995.7,973.1 974.2,971 985.7,955.6 1007.1,958.6" fill="#4454b0" stroke="#4454b0" stroke-width="0.6"/>
<polygon points="1105.7,960.2 1083.4,956.2 1093.6,945 1115.7,949.9" fill="#4157b3" stroke="#4157b3" stroke-width="0.6"/>
<polygon points="1050.7,964.6 1028.8,961.6 1039.7,948.3 1061.4,952.2" fill="#4355b1" stroke="#4355b1" stroke-width="0.6"/>
<polygon points="1183.6,965 1160.7,959.9 1169.9,951.6 1192.5,957.5" fill="#4256b2" stroke="#4256b2" stroke-width="0.6"/>
<polygon points="1128.3,964.3 1105.7,960.2 1115.7,949.9 1138,954.9" fill="#4256b2" stroke="#4256b2" stroke-width="0.6"/>
<polygon points="1017.6,975.2 995.7,973.1 1007.1,958.6 1028.8,961.6" fill="#4454b0" stroke="#4454b0" stroke-width="0.6"/>
<polygon points="1072.9,967.7 1050.7,964.6 1061.4,952.2 1083.4,956.2" fill="#4355b1" stroke="#4355b1" stroke-width="0.6"/>
<polygon points="1206.8,970.1 1183.6,965 1192.5,957.5 1215.4,963.6" fill="#4355b1" stroke="#4355b1" stroke-width="0.6"/>
<polygon points="1151.2,968.4 1128.3,964.3 1138,954.9 1160.7,959.9" fill="#4256b2" stroke="#4256b2" stroke-width="0.6"/>
<polygon points="1039.7,977.4 1017.6,975.2 1028.8,961.6 1050.7,964.6" fill="#4454b0" stroke="#4454b0" stroke-width="0.6"/>
<polygon points="1095.5,970.8 1072.9,967.7 1083.4,956.2 1105.7,960.2" fill="#4355b1" stroke="#4355b1" stroke-width="0.6"/>
<polygon points="1174.4,972.6 1151.2,968.4 1160.7,959.9 1183.6,965" fill="#4355b1" stroke="#4355b1" stroke-width="0.6"/>
<polygon points="1118.3,974 1095.5,970.8 1105.7,960.2 1128.3,964.3" fill="#4355b1" stroke="#4355b1" stroke-width="0.6"/>
<polygon points="1062.2,979.6 1039.7,977.4 1050.7,964.6 1072.9,967.7" fill="#4454b0" stroke="#4454b0" stroke-width="0.6"/>
<polygon points="1197.9,976.9 1174.4,972.6 1183.6,965 1206.8,970.1" fill="#4355b1" stroke="#4355b1" stroke-width="0.6"/>
<polygon points="1141.5,977.2 1118.3,974 1128.3,964.3 1151.2,968.4" fill="#4355b1" stroke="#4355b1" stroke-width="0.6"/>
<polygon points="1084.9,981.8 1062.2,979.6 1072.9,967.7 1095.5,970.8" fill="#4454b0" stroke="#4454b0" stroke-width="0.6"/>
<polygon points="1164.9,980.5 1141.5,977.2 1151.2,968.4 1174.4,972.6" fill="#4355b1" stroke="#4355b1" stroke-width="0.6"/>
<polygon points="1108,984 1084.9,981.8 1095.5,970.8 1118.3,974" fill="#4454b0" stroke="#4454b0" stroke-width="0.6"/>
<polygon points="1188.7,983.8 1164.9,980.5 1174.4,972.6 1197.9,976.9" fill="#4355b1" stroke="#4355b1" stroke-width="0.6"/>
<polygon points="1131.5,986.3 1108,984 1118.3,974 1141.5,977.2" fill="#4454b0" stroke="#4454b0" stroke-width="0.6"/>
<polygon points="1155.2,988.6 1131.5,986.3 1141.5,977.2 1164.9,980.5" fill="#4355b1" stroke="#4355b1" stroke-width="0.6"/>
<polygon points="1179.3,990.9 1155.2,988.6 1164.9,980.5 1188.7,983.8" fill="#4355b1" stroke="#4355b1" stroke-width="0.6"/>
<path d="M840.6 699.9L1011.2 654.5M1011.2 654.5L1304.8 673.4M840.6 699.9L854.3 1050M1011.2 654.5L1014.6 949.1M1304.8 673.4L1293.2 991.7M854.3 1050L1014.6 949.1M1014.6 949.1L1293.2 991.7M854.3 1050L1177.3 1112.2M1177.3 1112.2L1293.2 991.7" fill="none" stroke="#a0a0a0" stroke-width="1.2" style="mix-blend-mode:multiply"/>
<g fill="#8a8aa2" style="mix-blend-mode:multiply"><circle cx="994" cy="903" r="7"/><circle cx="1019.2" cy="925.8" r="7"/><polygon points="1126,876.9 1132.7,888.1 1119.3,888.1"/><polygon points="1098.3,838.7 1102.8,846.3 1093.8,846.3"/><circle cx="1258.6" cy="911.2" r="7"/><polygon points="1252.9,918.6 1259.6,929.8 1246.2,929.8"/></g>
<path d="M1179.3 990.9L1296.5 902.3M1179.3 990.9L850.8 959.1M1155.2 988.6L1276.5 887.6M1188.7 983.8L863.1 938.6M1131.5 986.3L1256.7 873.1M1197.9 976.9L875.2 918.6M1108 984L1237.1 858.6M1206.8 970.1L887.1 899.1M1084.9 981.8L1217.5 844.3M1215.4 963.6L898.7 879.9M1062.2 979.6L1198.2 830M1223.8 957.3L910 861.1M1039.7 977.4L1178.9 815.9M1232 951.1L921.1 842.8M1017.6 975.2L1159.8 801.9M1239.9 945.1L932 824.7M995.7 973.1L1140.8 787.9M1247.7 939.2L942.7 807.1M974.2 971L1122 774.1M1255.2 933.5L953.1 789.8M952.9 969L1103.3 760.3M1262.5 928L963.4 772.9M931.9 967L1084.7 746.7M1269.7 922.6L973.4 756.3M911.2 965L1066.2 733.1M1276.6 917.3L983.2 740M890.8 963L1047.9 719.7M1283.4 912.2L992.9 724M870.7 961L1029.7 706.3M1290 907.2L1002.4 708.4M850.8 959.1L1011.7 693M1296.5 902.3L1011.7 693" fill="none" stroke="#fff" stroke-width="2.9" opacity="0.42"/>
<path d="M1179.3 990.9L1296.5 902.3M1179.3 990.9L850.8 959.1M1155.2 988.6L1276.5 887.6M1188.7 983.8L863.1 938.6M1131.5 986.3L1256.7 873.1M1197.9 976.9L875.2 918.6M1108 984L1237.1 858.6M1206.8 970.1L887.1 899.1M1084.9 981.8L1217.5 844.3M1215.4 963.6L898.7 879.9M1062.2 979.6L1198.2 830M1223.8 957.3L910 861.1M1039.7 977.4L1178.9 815.9M1232 951.1L921.1 842.8M1017.6 975.2L1159.8 801.9M1239.9 945.1L932 824.7M995.7 973.1L1140.8 787.9M1247.7 939.2L942.7 807.1M974.2 971L1122 774.1M1255.2 933.5L953.1 789.8M952.9 969L1103.3 760.3M1262.5 928L963.4 772.9M931.9 967L1084.7 746.7M1269.7 922.6L973.4 756.3M911.2 965L1066.2 733.1M1276.6 917.3L983.2 740M890.8 963L1047.9 719.7M1283.4 912.2L992.9 724M870.7 961L1029.7 706.3M1290 907.2L1002.4 708.4M850.8 959.1L1011.7 693M1296.5 902.3L1011.7 693" fill="none" stroke="#000" stroke-width="1.25"/>
<g fill="#050505"><polygon points="1009.2,888 1015.9,899.2 1002.6,899.2" stroke="#fff" stroke-width="1.2" paint-order="stroke" stroke-linejoin="round"/><circle cx="1209.7" cy="889.2" r="7"/><circle cx="1166.8" cy="931.5" r="7"/><circle cx="1166.8" cy="940.6" r="7"/><polygon points="1179,937.2 1185.7,948.4 1172.3,948.4" stroke="#fff" stroke-width="1.2" paint-order="stroke" stroke-linejoin="round"/><circle cx="1208.4" cy="988.7" r="7"/><circle cx="919.5" cy="988.8" r="7"/><circle cx="973.6" cy="985.1" r="7"/><polygon points="1177.8,957.7 1182.3,965.3 1173.3,965.3" stroke="#fff" stroke-width="1.2" paint-order="stroke" stroke-linejoin="round"/><polygon points="1228.1,950.2 1234.8,961.4 1221.4,961.4" stroke="#fff" stroke-width="1.2" paint-order="stroke" stroke-linejoin="round"/></g>
<rect x="1310.8" y="671.8" width="60.3" height="18.6" fill="#2b2a73" stroke="#000" stroke-width="2"/><text x="1386.10" y="690.40" font-size="27">-5</text><rect x="1310.8" y="706" width="60.3" height="18.6" fill="#3a4ea3" stroke="#000" stroke-width="2"/><text x="1386.10" y="724.60" font-size="27">0</text><rect x="1310.8" y="740.2" width="60.3" height="18.6" fill="#0f6b6b" stroke="#000" stroke-width="2"/><text x="1386.10" y="758.80" font-size="27">5</text><rect x="1310.8" y="774.4" width="60.3" height="18.6" fill="#80c342" stroke="#000" stroke-width="2"/><text x="1386.10" y="793.00" font-size="27">10</text><rect x="1310.8" y="808.6" width="60.3" height="18.6" fill="#f8e514" stroke="#000" stroke-width="2"/><text x="1386.10" y="827.20" font-size="27">15</text><rect x="1310.8" y="842.8" width="60.3" height="18.6" fill="#f47a20" stroke="#000" stroke-width="2"/><text x="1386.10" y="861.40" font-size="27">20</text>
<text x="798.30" y="712.30" font-size="30">20</text><text x="802.10" y="786.35" font-size="30">15</text><text x="804.90" y="859.30" font-size="30">10</text><text x="823.80" y="929.20" font-size="30">5</text><text x="826.80" y="998.55" font-size="30">0</text><text x="820.10" y="1065.85" font-size="30">-5</text><text x="863.05" y="1091.85" font-size="30">25</text><text x="914.30" y="1101.10" font-size="30">20</text><text x="968.10" y="1111.70" font-size="30">15</text><text x="1022.40" y="1123.00" font-size="30">10</text><text x="1095.90" y="1133.55" font-size="30">5</text><text x="1153.85" y="1145.05" font-size="30">0</text><text x="1305.40" y="1004.15" font-size="30">1500</text><text x="1271.10" y="1039.05" font-size="30">1000</text><text x="1233.50" y="1078.90" font-size="30">500</text><text x="1190.65" y="1124.35" font-size="30">0</text>
<text x="123.95" y="33.45" font-size="30" font-weight="bold">A</text><text x="846.23" y="24.01" font-size="30" font-weight="bold">B</text><text x="124.55" y="621.45" font-size="30" font-weight="bold">C</text><text x="832.50" y="629.70" font-size="30" font-weight="bold">D</text><g transform="translate(226.8 535) rotate(10)"><text font-size="33">NH<tspan font-size="22" dx="-3.2" dy="9">4</tspan><tspan font-size="22" dx="1.6" dy="-28">+</tspan></text></g><g transform="translate(568.7 497.6) rotate(-48.5)"><text font-size="33">pCO<tspan font-size="22" dx="0" dy="11">2</tspan></text></g><g transform="translate(965.4 518.9) rotate(10)"><text font-size="33">NH<tspan font-size="22" dx="-3.2" dy="9">4</tspan><tspan font-size="22" dx="1.6" dy="-28">+</tspan></text></g><g transform="translate(1302.7 478.3) rotate(-48.5)"><text font-size="33">pCO<tspan font-size="22" dx="0" dy="11">2</tspan></text></g><g transform="translate(240.5 1151.4) rotate(10)"><text font-size="33">NH<tspan font-size="22" dx="-3.2" dy="9">4</tspan><tspan font-size="22" dx="1.6" dy="-28">+</tspan></text></g><g transform="translate(586.2 1113.6) rotate(-48.5)"><text font-size="33">pCO<tspan font-size="22" dx="0" dy="11">2</tspan></text></g><g transform="translate(950.5 1150.7) rotate(10)"><text font-size="33">NH<tspan font-size="22" dx="-3.2" dy="9">4</tspan><tspan font-size="22" dx="1.6" dy="-28">+</tspan></text></g><g transform="translate(1303.9 1116.7) rotate(-48.5)"><text font-size="33">pCO<tspan font-size="22" dx="0" dy="11">2</tspan></text></g><g transform="translate(48.5 435.0) rotate(-92)"><text font-size="33.2">NH<tspan font-size="22" dy="9.6">4</tspan><tspan font-size="22" dy="-26.6">+</tspan><tspan dy="17"> pools (µM g</tspan><tspan font-size="22" dy="-12">-1</tspan><tspan dy="12"> FW)</tspan></text></g><g transform="translate(787.0 413.0) rotate(-92)"><text font-size="33.2">NO<tspan font-size="22" dy="8">3</tspan><tspan font-size="22" dy="-25">-</tspan><tspan dy="17"> pools (µM g</tspan><tspan font-size="22" dy="-12">-1</tspan><tspan dy="12"> FW)</tspan></text></g><g transform="translate(36.0 1074.5) rotate(-92)"><text font-size="33.2"><tspan font-style="italic">in situ</tspan> NH<tspan font-size="22" dy="8">4</tspan><tspan font-size="22" dy="-25">+</tspan><tspan dy="17"> uptake rates</tspan></text></g><g transform="translate(88.0 1006.0) rotate(-92)"><text font-size="33.2">(µM g<tspan font-size="22" dy="-15">-1</tspan><tspan dx="3" dy="15"> FW h</tspan><tspan font-size="22" dy="-15.5">-1</tspan><tspan dx="1.5" dy="15.5">)</tspan></text></g><g transform="translate(752.0 1076.5) rotate(-92)"><text font-size="33.2"><tspan font-style="italic">in situ</tspan> NO<tspan font-size="22" dy="8">3</tspan><tspan font-size="22" dy="-25">-</tspan><tspan dy="17"> uptake rates</tspan></text></g><g transform="translate(801.5 1007.0) rotate(-92)"><text font-size="33.2">(µM g<tspan font-size="22" dy="-15">-1</tspan><tspan dx="3" dy="15"> FW h</tspan><tspan font-size="22" dy="-15.5">-1</tspan><tspan dx="1.5" dy="15.5">)</tspan></text></g>
</svg></body></html>
